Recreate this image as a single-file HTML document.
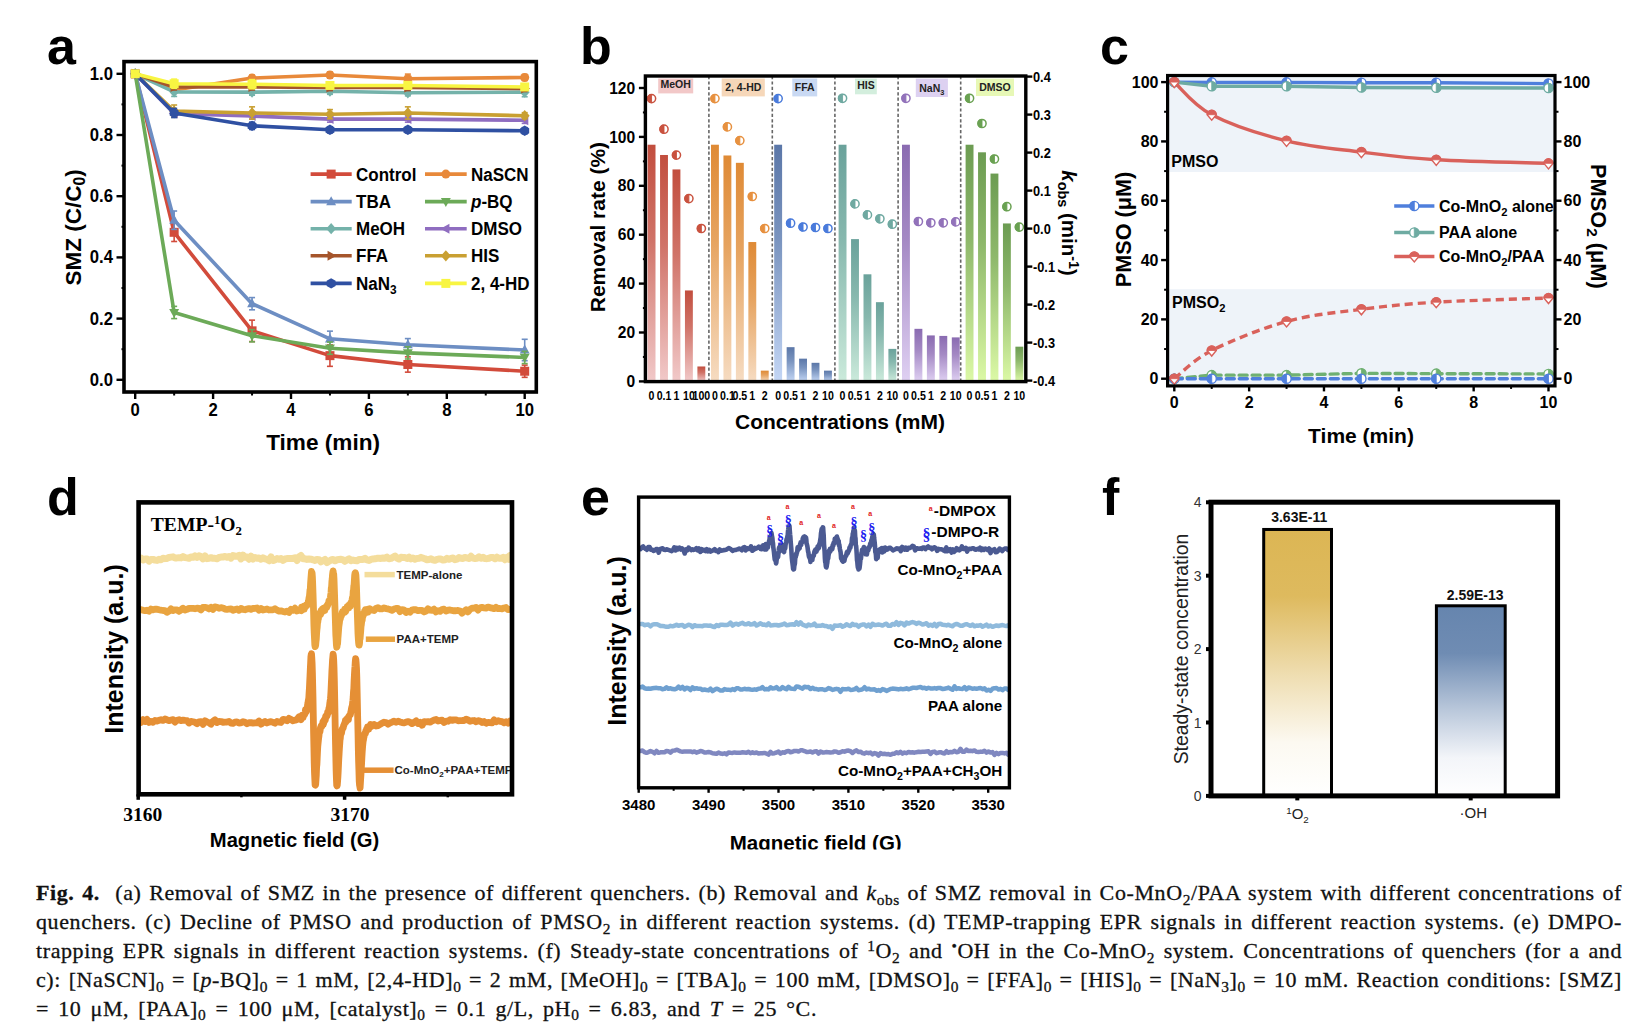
<!DOCTYPE html>
<html><head><meta charset="utf-8"><style>
html,body{margin:0;padding:0;background:#fff;}
body{width:1652px;height:1030px;position:relative;overflow:hidden;}
.cl{position:absolute;left:36px;width:1586px;font-family:"Liberation Serif",serif;font-size:22px;line-height:22px;height:22px;white-space:nowrap;letter-spacing:0.6px;text-align:justify;text-align-last:justify;color:#111;-webkit-text-stroke:0.3px #111;}
.cl.last{width:781px;}
.sb{font-size:0.7em;position:relative;top:0.3em;}
.sp{font-size:0.7em;position:relative;top:-0.45em;}
</style></head><body>
<svg width="1652" height="1030" viewBox="0 0 1652 1030" style="position:absolute;left:0;top:0"><defs><linearGradient id="gb0" x1="0" y1="0" x2="0" y2="1"><stop offset="0" stop-color="#c24e3e"/><stop offset="0.4" stop-color="#d07368"/><stop offset="1" stop-color="#f1c9c9"/></linearGradient><linearGradient id="gb1" x1="0" y1="0" x2="0" y2="1"><stop offset="0" stop-color="#df8a35"/><stop offset="0.4" stop-color="#e6a35f"/><stop offset="1" stop-color="#f6dcc2"/></linearGradient><linearGradient id="gb2" x1="0" y1="0" x2="0" y2="1"><stop offset="0" stop-color="#5b77a8"/><stop offset="0.4" stop-color="#7a94bf"/><stop offset="1" stop-color="#c3d6f5"/></linearGradient><linearGradient id="gb3" x1="0" y1="0" x2="0" y2="1"><stop offset="0" stop-color="#6aa29b"/><stop offset="0.4" stop-color="#87b8ae"/><stop offset="1" stop-color="#cbeadb"/></linearGradient><linearGradient id="gb4" x1="0" y1="0" x2="0" y2="1"><stop offset="0" stop-color="#8a6bb1"/><stop offset="0.4" stop-color="#a489c4"/><stop offset="1" stop-color="#dfd0f2"/></linearGradient><linearGradient id="gb5" x1="0" y1="0" x2="0" y2="1"><stop offset="0" stop-color="#6c9c52"/><stop offset="0.4" stop-color="#8eb86b"/><stop offset="1" stop-color="#dcf9a6"/></linearGradient><linearGradient id="gf1" x1="0" y1="0" x2="0" y2="1"><stop offset="0" stop-color="#dcb654"/><stop offset="0.25" stop-color="#deba5e"/><stop offset="0.55" stop-color="#efdeb2"/><stop offset="0.8" stop-color="#fcf9f1"/><stop offset="1" stop-color="#ffffff"/></linearGradient><linearGradient id="gf2" x1="0" y1="0" x2="0" y2="1"><stop offset="0" stop-color="#6685ae"/><stop offset="0.25" stop-color="#6f8cb3"/><stop offset="0.55" stop-color="#bac8db"/><stop offset="0.8" stop-color="#f3f5f9"/><stop offset="1" stop-color="#ffffff"/></linearGradient></defs><text x="47" y="63.5" font-size="52" font-weight="bold" text-anchor="start" fill="#000" font-family='"Liberation Sans", sans-serif' >a</text>
<polyline points="135.2,73.8 174.15,232.31 252.05,330.84 329.95,355.63 407.85,364.5 524.7,371.23" fill="none" stroke="#d24b3b" stroke-width="3.6" stroke-linejoin="round" stroke-linecap="round" />
<rect x="130.7" y="69.3" width="9" height="9" fill="#d24b3b"/>
<line x1="174.15" y1="223.13" x2="174.15" y2="241.49" stroke="#d24b3b" stroke-width="1.6" />
<line x1="171.15" y1="223.13" x2="177.15" y2="223.13" stroke="#d24b3b" stroke-width="1.6" />
<line x1="171.15" y1="241.49" x2="177.15" y2="241.49" stroke="#d24b3b" stroke-width="1.6" />
<rect x="169.65" y="227.81" width="9" height="9" fill="#d24b3b"/>
<line x1="252.05" y1="320.13" x2="252.05" y2="341.55" stroke="#d24b3b" stroke-width="1.6" />
<line x1="249.05" y1="320.13" x2="255.05" y2="320.13" stroke="#d24b3b" stroke-width="1.6" />
<line x1="249.05" y1="341.55" x2="255.05" y2="341.55" stroke="#d24b3b" stroke-width="1.6" />
<rect x="247.55" y="326.34" width="9" height="9" fill="#d24b3b"/>
<line x1="329.95" y1="344.92" x2="329.95" y2="366.34" stroke="#d24b3b" stroke-width="1.6" />
<line x1="326.95" y1="344.92" x2="332.95" y2="344.92" stroke="#d24b3b" stroke-width="1.6" />
<line x1="326.95" y1="366.34" x2="332.95" y2="366.34" stroke="#d24b3b" stroke-width="1.6" />
<rect x="325.45" y="351.13" width="9" height="9" fill="#d24b3b"/>
<line x1="407.85" y1="356.85" x2="407.85" y2="372.15" stroke="#d24b3b" stroke-width="1.6" />
<line x1="404.85" y1="356.85" x2="410.85" y2="356.85" stroke="#d24b3b" stroke-width="1.6" />
<line x1="404.85" y1="372.15" x2="410.85" y2="372.15" stroke="#d24b3b" stroke-width="1.6" />
<rect x="403.35" y="360" width="9" height="9" fill="#d24b3b"/>
<line x1="524.7" y1="365.11" x2="524.7" y2="377.35" stroke="#d24b3b" stroke-width="1.6" />
<line x1="521.7" y1="365.11" x2="527.7" y2="365.11" stroke="#d24b3b" stroke-width="1.6" />
<line x1="521.7" y1="377.35" x2="527.7" y2="377.35" stroke="#d24b3b" stroke-width="1.6" />
<rect x="520.2" y="366.73" width="9" height="9" fill="#d24b3b"/>
<polyline points="135.2,73.8 174.15,90.02 252.05,78.08 329.95,75.02 407.85,78.7 524.7,77.47" fill="none" stroke="#e8893a" stroke-width="3.6" stroke-linejoin="round" stroke-linecap="round" />
<circle cx="135.2" cy="73.8" r="4.5" fill="#e8893a"/>
<line x1="174.15" y1="86.96" x2="174.15" y2="93.08" stroke="#e8893a" stroke-width="1.6" />
<line x1="171.15" y1="86.96" x2="177.15" y2="86.96" stroke="#e8893a" stroke-width="1.6" />
<line x1="171.15" y1="93.08" x2="177.15" y2="93.08" stroke="#e8893a" stroke-width="1.6" />
<circle cx="174.15" cy="90.02" r="4.5" fill="#e8893a"/>
<line x1="252.05" y1="75.02" x2="252.05" y2="81.14" stroke="#e8893a" stroke-width="1.6" />
<line x1="249.05" y1="75.02" x2="255.05" y2="75.02" stroke="#e8893a" stroke-width="1.6" />
<line x1="249.05" y1="81.14" x2="255.05" y2="81.14" stroke="#e8893a" stroke-width="1.6" />
<circle cx="252.05" cy="78.08" r="4.5" fill="#e8893a"/>
<line x1="329.95" y1="71.96" x2="329.95" y2="78.08" stroke="#e8893a" stroke-width="1.6" />
<line x1="326.95" y1="71.96" x2="332.95" y2="71.96" stroke="#e8893a" stroke-width="1.6" />
<line x1="326.95" y1="78.08" x2="332.95" y2="78.08" stroke="#e8893a" stroke-width="1.6" />
<circle cx="329.95" cy="75.02" r="4.5" fill="#e8893a"/>
<line x1="407.85" y1="74.11" x2="407.85" y2="83.29" stroke="#e8893a" stroke-width="1.6" />
<line x1="404.85" y1="74.11" x2="410.85" y2="74.11" stroke="#e8893a" stroke-width="1.6" />
<line x1="404.85" y1="83.29" x2="410.85" y2="83.29" stroke="#e8893a" stroke-width="1.6" />
<circle cx="407.85" cy="78.7" r="4.5" fill="#e8893a"/>
<line x1="524.7" y1="74.41" x2="524.7" y2="80.53" stroke="#e8893a" stroke-width="1.6" />
<line x1="521.7" y1="74.41" x2="527.7" y2="74.41" stroke="#e8893a" stroke-width="1.6" />
<line x1="521.7" y1="80.53" x2="527.7" y2="80.53" stroke="#e8893a" stroke-width="1.6" />
<circle cx="524.7" cy="77.47" r="4.5" fill="#e8893a"/>
<polyline points="135.2,73.8 174.15,220.19 252.05,303.7 329.95,338.8 407.85,344.7 524.7,350" fill="none" stroke="#6d8ec3" stroke-width="3.6" stroke-linejoin="round" stroke-linecap="round" />
<polygon points="135.2,68.4 140.15,77.4 130.25,77.4" fill="#6d8ec3"/>
<line x1="174.15" y1="211.01" x2="174.15" y2="229.37" stroke="#6d8ec3" stroke-width="1.6" />
<line x1="171.15" y1="211.01" x2="177.15" y2="211.01" stroke="#6d8ec3" stroke-width="1.6" />
<line x1="171.15" y1="229.37" x2="177.15" y2="229.37" stroke="#6d8ec3" stroke-width="1.6" />
<polygon points="174.15,214.79 179.1,223.79 169.2,223.79" fill="#6d8ec3"/>
<line x1="252.05" y1="297.58" x2="252.05" y2="309.82" stroke="#6d8ec3" stroke-width="1.6" />
<line x1="249.05" y1="297.58" x2="255.05" y2="297.58" stroke="#6d8ec3" stroke-width="1.6" />
<line x1="249.05" y1="309.82" x2="255.05" y2="309.82" stroke="#6d8ec3" stroke-width="1.6" />
<polygon points="252.05,298.3 257,307.3 247.1,307.3" fill="#6d8ec3"/>
<line x1="329.95" y1="331.15" x2="329.95" y2="346.45" stroke="#6d8ec3" stroke-width="1.6" />
<line x1="326.95" y1="331.15" x2="332.95" y2="331.15" stroke="#6d8ec3" stroke-width="1.6" />
<line x1="326.95" y1="346.45" x2="332.95" y2="346.45" stroke="#6d8ec3" stroke-width="1.6" />
<polygon points="329.95,333.4 334.9,342.4 325,342.4" fill="#6d8ec3"/>
<line x1="407.85" y1="338.58" x2="407.85" y2="350.82" stroke="#6d8ec3" stroke-width="1.6" />
<line x1="404.85" y1="338.58" x2="410.85" y2="338.58" stroke="#6d8ec3" stroke-width="1.6" />
<line x1="404.85" y1="350.82" x2="410.85" y2="350.82" stroke="#6d8ec3" stroke-width="1.6" />
<polygon points="407.85,339.3 412.8,348.3 402.9,348.3" fill="#6d8ec3"/>
<line x1="524.7" y1="339.29" x2="524.7" y2="360.71" stroke="#6d8ec3" stroke-width="1.6" />
<line x1="521.7" y1="339.29" x2="527.7" y2="339.29" stroke="#6d8ec3" stroke-width="1.6" />
<line x1="521.7" y1="360.71" x2="527.7" y2="360.71" stroke="#6d8ec3" stroke-width="1.6" />
<polygon points="524.7,344.6 529.65,353.6 519.75,353.6" fill="#6d8ec3"/>
<polyline points="135.2,73.8 174.15,312.48 252.05,335.74 329.95,348.19 407.85,352.87 524.7,357.46" fill="none" stroke="#6caa58" stroke-width="3.6" stroke-linejoin="round" stroke-linecap="round" />
<polygon points="135.2,79.2 140.15,70.2 130.25,70.2" fill="#6caa58"/>
<line x1="174.15" y1="306.36" x2="174.15" y2="318.6" stroke="#6caa58" stroke-width="1.6" />
<line x1="171.15" y1="306.36" x2="177.15" y2="306.36" stroke="#6caa58" stroke-width="1.6" />
<line x1="171.15" y1="318.6" x2="177.15" y2="318.6" stroke="#6caa58" stroke-width="1.6" />
<polygon points="174.15,317.88 179.1,308.88 169.2,308.88" fill="#6caa58"/>
<line x1="252.05" y1="329.62" x2="252.05" y2="341.86" stroke="#6caa58" stroke-width="1.6" />
<line x1="249.05" y1="329.62" x2="255.05" y2="329.62" stroke="#6caa58" stroke-width="1.6" />
<line x1="249.05" y1="341.86" x2="255.05" y2="341.86" stroke="#6caa58" stroke-width="1.6" />
<polygon points="252.05,341.14 257,332.14 247.1,332.14" fill="#6caa58"/>
<line x1="329.95" y1="342.07" x2="329.95" y2="354.31" stroke="#6caa58" stroke-width="1.6" />
<line x1="326.95" y1="342.07" x2="332.95" y2="342.07" stroke="#6caa58" stroke-width="1.6" />
<line x1="326.95" y1="354.31" x2="332.95" y2="354.31" stroke="#6caa58" stroke-width="1.6" />
<polygon points="329.95,353.59 334.9,344.59 325,344.59" fill="#6caa58"/>
<line x1="407.85" y1="346.75" x2="407.85" y2="358.99" stroke="#6caa58" stroke-width="1.6" />
<line x1="404.85" y1="346.75" x2="410.85" y2="346.75" stroke="#6caa58" stroke-width="1.6" />
<line x1="404.85" y1="358.99" x2="410.85" y2="358.99" stroke="#6caa58" stroke-width="1.6" />
<polygon points="407.85,358.27 412.8,349.27 402.9,349.27" fill="#6caa58"/>
<line x1="524.7" y1="351.34" x2="524.7" y2="363.58" stroke="#6caa58" stroke-width="1.6" />
<line x1="521.7" y1="351.34" x2="527.7" y2="351.34" stroke="#6caa58" stroke-width="1.6" />
<line x1="521.7" y1="363.58" x2="527.7" y2="363.58" stroke="#6caa58" stroke-width="1.6" />
<polygon points="524.7,362.86 529.65,353.86 519.75,353.86" fill="#6caa58"/>
<polyline points="135.2,73.8 174.15,91.85 252.05,92.16 329.95,91.24 407.85,92.77 524.7,92.16" fill="none" stroke="#74b2aa" stroke-width="3.6" stroke-linejoin="round" stroke-linecap="round" />
<polygon points="135.2,68.18 140.15,73.8 135.2,79.43 130.25,73.8" fill="#74b2aa"/>
<line x1="174.15" y1="87.26" x2="174.15" y2="96.44" stroke="#74b2aa" stroke-width="1.6" />
<line x1="171.15" y1="87.26" x2="177.15" y2="87.26" stroke="#74b2aa" stroke-width="1.6" />
<line x1="171.15" y1="96.44" x2="177.15" y2="96.44" stroke="#74b2aa" stroke-width="1.6" />
<polygon points="174.15,86.23 179.1,91.85 174.15,97.48 169.2,91.85" fill="#74b2aa"/>
<line x1="252.05" y1="89.1" x2="252.05" y2="95.22" stroke="#74b2aa" stroke-width="1.6" />
<line x1="249.05" y1="89.1" x2="255.05" y2="89.1" stroke="#74b2aa" stroke-width="1.6" />
<line x1="249.05" y1="95.22" x2="255.05" y2="95.22" stroke="#74b2aa" stroke-width="1.6" />
<polygon points="252.05,86.54 257,92.16 252.05,97.79 247.1,92.16" fill="#74b2aa"/>
<line x1="329.95" y1="88.18" x2="329.95" y2="94.3" stroke="#74b2aa" stroke-width="1.6" />
<line x1="326.95" y1="88.18" x2="332.95" y2="88.18" stroke="#74b2aa" stroke-width="1.6" />
<line x1="326.95" y1="94.3" x2="332.95" y2="94.3" stroke="#74b2aa" stroke-width="1.6" />
<polygon points="329.95,85.62 334.9,91.24 329.95,96.87 325,91.24" fill="#74b2aa"/>
<line x1="407.85" y1="89.71" x2="407.85" y2="95.83" stroke="#74b2aa" stroke-width="1.6" />
<line x1="404.85" y1="89.71" x2="410.85" y2="89.71" stroke="#74b2aa" stroke-width="1.6" />
<line x1="404.85" y1="95.83" x2="410.85" y2="95.83" stroke="#74b2aa" stroke-width="1.6" />
<polygon points="407.85,87.15 412.8,92.77 407.85,98.4 402.9,92.77" fill="#74b2aa"/>
<line x1="524.7" y1="87.57" x2="524.7" y2="96.75" stroke="#74b2aa" stroke-width="1.6" />
<line x1="521.7" y1="87.57" x2="527.7" y2="87.57" stroke="#74b2aa" stroke-width="1.6" />
<line x1="521.7" y1="96.75" x2="527.7" y2="96.75" stroke="#74b2aa" stroke-width="1.6" />
<polygon points="524.7,86.54 529.65,92.16 524.7,97.79 519.75,92.16" fill="#74b2aa"/>
<polyline points="135.2,73.8 174.15,113.58 252.05,116.03 329.95,119.09 407.85,119.09 524.7,120.31" fill="none" stroke="#8f6dc0" stroke-width="3.6" stroke-linejoin="round" stroke-linecap="round" />
<polygon points="129.8,73.8 138.8,68.85 138.8,78.75" fill="#8f6dc0"/>
<line x1="174.15" y1="110.52" x2="174.15" y2="116.64" stroke="#8f6dc0" stroke-width="1.6" />
<line x1="171.15" y1="110.52" x2="177.15" y2="110.52" stroke="#8f6dc0" stroke-width="1.6" />
<line x1="171.15" y1="116.64" x2="177.15" y2="116.64" stroke="#8f6dc0" stroke-width="1.6" />
<polygon points="168.75,113.58 177.75,108.63 177.75,118.53" fill="#8f6dc0"/>
<line x1="252.05" y1="112.97" x2="252.05" y2="119.09" stroke="#8f6dc0" stroke-width="1.6" />
<line x1="249.05" y1="112.97" x2="255.05" y2="112.97" stroke="#8f6dc0" stroke-width="1.6" />
<line x1="249.05" y1="119.09" x2="255.05" y2="119.09" stroke="#8f6dc0" stroke-width="1.6" />
<polygon points="246.65,116.03 255.65,111.08 255.65,120.98" fill="#8f6dc0"/>
<line x1="329.95" y1="116.03" x2="329.95" y2="122.15" stroke="#8f6dc0" stroke-width="1.6" />
<line x1="326.95" y1="116.03" x2="332.95" y2="116.03" stroke="#8f6dc0" stroke-width="1.6" />
<line x1="326.95" y1="122.15" x2="332.95" y2="122.15" stroke="#8f6dc0" stroke-width="1.6" />
<polygon points="324.55,119.09 333.55,114.14 333.55,124.04" fill="#8f6dc0"/>
<line x1="407.85" y1="116.03" x2="407.85" y2="122.15" stroke="#8f6dc0" stroke-width="1.6" />
<line x1="404.85" y1="116.03" x2="410.85" y2="116.03" stroke="#8f6dc0" stroke-width="1.6" />
<line x1="404.85" y1="122.15" x2="410.85" y2="122.15" stroke="#8f6dc0" stroke-width="1.6" />
<polygon points="402.45,119.09 411.45,114.14 411.45,124.04" fill="#8f6dc0"/>
<line x1="524.7" y1="117.25" x2="524.7" y2="123.37" stroke="#8f6dc0" stroke-width="1.6" />
<line x1="521.7" y1="117.25" x2="527.7" y2="117.25" stroke="#8f6dc0" stroke-width="1.6" />
<line x1="521.7" y1="123.37" x2="527.7" y2="123.37" stroke="#8f6dc0" stroke-width="1.6" />
<polygon points="519.3,120.31 528.3,115.36 528.3,125.26" fill="#8f6dc0"/>
<polyline points="135.2,73.8 174.15,86.96 252.05,86.96 329.95,87.57 407.85,87.57 524.7,88.49" fill="none" stroke="#a5552b" stroke-width="3.6" stroke-linejoin="round" stroke-linecap="round" />
<polygon points="140.6,73.8 131.6,68.85 131.6,78.75" fill="#a5552b"/>
<line x1="174.15" y1="83.9" x2="174.15" y2="90.02" stroke="#a5552b" stroke-width="1.6" />
<line x1="171.15" y1="83.9" x2="177.15" y2="83.9" stroke="#a5552b" stroke-width="1.6" />
<line x1="171.15" y1="90.02" x2="177.15" y2="90.02" stroke="#a5552b" stroke-width="1.6" />
<polygon points="179.55,86.96 170.55,82.01 170.55,91.91" fill="#a5552b"/>
<line x1="252.05" y1="83.9" x2="252.05" y2="90.02" stroke="#a5552b" stroke-width="1.6" />
<line x1="249.05" y1="83.9" x2="255.05" y2="83.9" stroke="#a5552b" stroke-width="1.6" />
<line x1="249.05" y1="90.02" x2="255.05" y2="90.02" stroke="#a5552b" stroke-width="1.6" />
<polygon points="257.45,86.96 248.45,82.01 248.45,91.91" fill="#a5552b"/>
<line x1="329.95" y1="84.51" x2="329.95" y2="90.63" stroke="#a5552b" stroke-width="1.6" />
<line x1="326.95" y1="84.51" x2="332.95" y2="84.51" stroke="#a5552b" stroke-width="1.6" />
<line x1="326.95" y1="90.63" x2="332.95" y2="90.63" stroke="#a5552b" stroke-width="1.6" />
<polygon points="335.35,87.57 326.35,82.62 326.35,92.52" fill="#a5552b"/>
<line x1="407.85" y1="84.51" x2="407.85" y2="90.63" stroke="#a5552b" stroke-width="1.6" />
<line x1="404.85" y1="84.51" x2="410.85" y2="84.51" stroke="#a5552b" stroke-width="1.6" />
<line x1="404.85" y1="90.63" x2="410.85" y2="90.63" stroke="#a5552b" stroke-width="1.6" />
<polygon points="413.25,87.57 404.25,82.62 404.25,92.52" fill="#a5552b"/>
<line x1="524.7" y1="85.43" x2="524.7" y2="91.55" stroke="#a5552b" stroke-width="1.6" />
<line x1="521.7" y1="85.43" x2="527.7" y2="85.43" stroke="#a5552b" stroke-width="1.6" />
<line x1="521.7" y1="91.55" x2="527.7" y2="91.55" stroke="#a5552b" stroke-width="1.6" />
<polygon points="530.1,88.49 521.1,83.54 521.1,93.44" fill="#a5552b"/>
<polyline points="135.2,73.8 174.15,111.13 252.05,112.97 329.95,114.19 407.85,112.97 524.7,115.72" fill="none" stroke="#c9a032" stroke-width="3.6" stroke-linejoin="round" stroke-linecap="round" />
<polygon points="135.2,68.18 140.15,73.8 135.2,79.43 130.25,73.8" fill="#c9a032"/>
<line x1="174.15" y1="105.01" x2="174.15" y2="117.25" stroke="#c9a032" stroke-width="1.6" />
<line x1="171.15" y1="105.01" x2="177.15" y2="105.01" stroke="#c9a032" stroke-width="1.6" />
<line x1="171.15" y1="117.25" x2="177.15" y2="117.25" stroke="#c9a032" stroke-width="1.6" />
<polygon points="174.15,105.51 179.1,111.13 174.15,116.76 169.2,111.13" fill="#c9a032"/>
<line x1="252.05" y1="106.85" x2="252.05" y2="119.09" stroke="#c9a032" stroke-width="1.6" />
<line x1="249.05" y1="106.85" x2="255.05" y2="106.85" stroke="#c9a032" stroke-width="1.6" />
<line x1="249.05" y1="119.09" x2="255.05" y2="119.09" stroke="#c9a032" stroke-width="1.6" />
<polygon points="252.05,107.34 257,112.97 252.05,118.59 247.1,112.97" fill="#c9a032"/>
<line x1="329.95" y1="109.6" x2="329.95" y2="118.78" stroke="#c9a032" stroke-width="1.6" />
<line x1="326.95" y1="109.6" x2="332.95" y2="109.6" stroke="#c9a032" stroke-width="1.6" />
<line x1="326.95" y1="118.78" x2="332.95" y2="118.78" stroke="#c9a032" stroke-width="1.6" />
<polygon points="329.95,108.57 334.9,114.19 329.95,119.82 325,114.19" fill="#c9a032"/>
<line x1="407.85" y1="106.85" x2="407.85" y2="119.09" stroke="#c9a032" stroke-width="1.6" />
<line x1="404.85" y1="106.85" x2="410.85" y2="106.85" stroke="#c9a032" stroke-width="1.6" />
<line x1="404.85" y1="119.09" x2="410.85" y2="119.09" stroke="#c9a032" stroke-width="1.6" />
<polygon points="407.85,107.34 412.8,112.97 407.85,118.59 402.9,112.97" fill="#c9a032"/>
<line x1="524.7" y1="112.66" x2="524.7" y2="118.78" stroke="#c9a032" stroke-width="1.6" />
<line x1="521.7" y1="112.66" x2="527.7" y2="112.66" stroke="#c9a032" stroke-width="1.6" />
<line x1="521.7" y1="118.78" x2="527.7" y2="118.78" stroke="#c9a032" stroke-width="1.6" />
<polygon points="524.7,110.1 529.65,115.72 524.7,121.35 519.75,115.72" fill="#c9a032"/>
<polyline points="135.2,73.8 174.15,112.97 252.05,125.82 329.95,129.8 407.85,129.8 524.7,130.72" fill="none" stroke="#2f50a2" stroke-width="3.6" stroke-linejoin="round" stroke-linecap="round" />
<polygon points="135.2,68.63 139.68,71.21 139.68,76.39 135.2,78.98 130.72,76.39 130.72,71.21" fill="#2f50a2"/>
<line x1="174.15" y1="108.38" x2="174.15" y2="117.56" stroke="#2f50a2" stroke-width="1.6" />
<line x1="171.15" y1="108.38" x2="177.15" y2="108.38" stroke="#2f50a2" stroke-width="1.6" />
<line x1="171.15" y1="117.56" x2="177.15" y2="117.56" stroke="#2f50a2" stroke-width="1.6" />
<polygon points="174.15,107.79 178.63,110.38 178.63,115.56 174.15,118.14 169.67,115.56 169.67,110.38" fill="#2f50a2"/>
<line x1="252.05" y1="122.15" x2="252.05" y2="129.49" stroke="#2f50a2" stroke-width="1.6" />
<line x1="249.05" y1="122.15" x2="255.05" y2="122.15" stroke="#2f50a2" stroke-width="1.6" />
<line x1="249.05" y1="129.49" x2="255.05" y2="129.49" stroke="#2f50a2" stroke-width="1.6" />
<polygon points="252.05,120.65 256.53,123.23 256.53,128.41 252.05,131 247.57,128.41 247.57,123.23" fill="#2f50a2"/>
<line x1="329.95" y1="126.74" x2="329.95" y2="132.86" stroke="#2f50a2" stroke-width="1.6" />
<line x1="326.95" y1="126.74" x2="332.95" y2="126.74" stroke="#2f50a2" stroke-width="1.6" />
<line x1="326.95" y1="132.86" x2="332.95" y2="132.86" stroke="#2f50a2" stroke-width="1.6" />
<polygon points="329.95,124.62 334.43,127.21 334.43,132.39 329.95,134.97 325.47,132.39 325.47,127.21" fill="#2f50a2"/>
<line x1="407.85" y1="126.74" x2="407.85" y2="132.86" stroke="#2f50a2" stroke-width="1.6" />
<line x1="404.85" y1="126.74" x2="410.85" y2="126.74" stroke="#2f50a2" stroke-width="1.6" />
<line x1="404.85" y1="132.86" x2="410.85" y2="132.86" stroke="#2f50a2" stroke-width="1.6" />
<polygon points="407.85,124.62 412.33,127.21 412.33,132.39 407.85,134.97 403.37,132.39 403.37,127.21" fill="#2f50a2"/>
<line x1="524.7" y1="127.66" x2="524.7" y2="133.78" stroke="#2f50a2" stroke-width="1.6" />
<line x1="521.7" y1="127.66" x2="527.7" y2="127.66" stroke="#2f50a2" stroke-width="1.6" />
<line x1="521.7" y1="133.78" x2="527.7" y2="133.78" stroke="#2f50a2" stroke-width="1.6" />
<polygon points="524.7,125.54 529.18,128.13 529.18,133.3 524.7,135.89 520.22,133.3 520.22,128.13" fill="#2f50a2"/>
<polyline points="135.2,73.8 174.15,83.71 252.05,84.2 329.95,85.43 407.85,85.43 524.7,86.96" fill="none" stroke="#f8f542" stroke-width="3.6" stroke-linejoin="round" stroke-linecap="round" />
<rect x="130.7" y="69.3" width="9" height="9" fill="#f8f542"/>
<line x1="174.15" y1="79.12" x2="174.15" y2="88.3" stroke="#f8f542" stroke-width="1.6" />
<line x1="171.15" y1="79.12" x2="177.15" y2="79.12" stroke="#f8f542" stroke-width="1.6" />
<line x1="171.15" y1="88.3" x2="177.15" y2="88.3" stroke="#f8f542" stroke-width="1.6" />
<rect x="169.65" y="79.21" width="9" height="9" fill="#f8f542"/>
<line x1="252.05" y1="79.61" x2="252.05" y2="88.79" stroke="#f8f542" stroke-width="1.6" />
<line x1="249.05" y1="79.61" x2="255.05" y2="79.61" stroke="#f8f542" stroke-width="1.6" />
<line x1="249.05" y1="88.79" x2="255.05" y2="88.79" stroke="#f8f542" stroke-width="1.6" />
<rect x="247.55" y="79.7" width="9" height="9" fill="#f8f542"/>
<line x1="329.95" y1="82.37" x2="329.95" y2="88.49" stroke="#f8f542" stroke-width="1.6" />
<line x1="326.95" y1="82.37" x2="332.95" y2="82.37" stroke="#f8f542" stroke-width="1.6" />
<line x1="326.95" y1="88.49" x2="332.95" y2="88.49" stroke="#f8f542" stroke-width="1.6" />
<rect x="325.45" y="80.93" width="9" height="9" fill="#f8f542"/>
<line x1="407.85" y1="82.37" x2="407.85" y2="88.49" stroke="#f8f542" stroke-width="1.6" />
<line x1="404.85" y1="82.37" x2="410.85" y2="82.37" stroke="#f8f542" stroke-width="1.6" />
<line x1="404.85" y1="88.49" x2="410.85" y2="88.49" stroke="#f8f542" stroke-width="1.6" />
<rect x="403.35" y="80.93" width="9" height="9" fill="#f8f542"/>
<line x1="524.7" y1="83.9" x2="524.7" y2="90.02" stroke="#f8f542" stroke-width="1.6" />
<line x1="521.7" y1="83.9" x2="527.7" y2="83.9" stroke="#f8f542" stroke-width="1.6" />
<line x1="521.7" y1="90.02" x2="527.7" y2="90.02" stroke="#f8f542" stroke-width="1.6" />
<rect x="520.2" y="82.46" width="9" height="9" fill="#f8f542"/>
<rect x="124" y="61.6" width="412.3" height="330.4" fill="none" stroke="#000" stroke-width="3.6" />
<line x1="116.5" y1="379.8" x2="124" y2="379.8" stroke="#000" stroke-width="2.4" />
<text transform="translate(113,385.7) scale(1,1.1)" font-size="16.7" font-weight="bold" text-anchor="end" fill="#000" font-family='"Liberation Sans", sans-serif' >0.0</text>
<line x1="121.5" y1="349.2" x2="124" y2="349.2" stroke="#000" stroke-width="2.0" />
<line x1="116.5" y1="318.6" x2="124" y2="318.6" stroke="#000" stroke-width="2.4" />
<text transform="translate(113,324.5) scale(1,1.1)" font-size="16.7" font-weight="bold" text-anchor="end" fill="#000" font-family='"Liberation Sans", sans-serif' >0.2</text>
<line x1="121.5" y1="288" x2="124" y2="288" stroke="#000" stroke-width="2.0" />
<line x1="116.5" y1="257.4" x2="124" y2="257.4" stroke="#000" stroke-width="2.4" />
<text transform="translate(113,263.3) scale(1,1.1)" font-size="16.7" font-weight="bold" text-anchor="end" fill="#000" font-family='"Liberation Sans", sans-serif' >0.4</text>
<line x1="121.5" y1="226.8" x2="124" y2="226.8" stroke="#000" stroke-width="2.0" />
<line x1="116.5" y1="196.2" x2="124" y2="196.2" stroke="#000" stroke-width="2.4" />
<text transform="translate(113,202.1) scale(1,1.1)" font-size="16.7" font-weight="bold" text-anchor="end" fill="#000" font-family='"Liberation Sans", sans-serif' >0.6</text>
<line x1="121.5" y1="165.6" x2="124" y2="165.6" stroke="#000" stroke-width="2.0" />
<line x1="116.5" y1="135" x2="124" y2="135" stroke="#000" stroke-width="2.4" />
<text transform="translate(113,140.9) scale(1,1.1)" font-size="16.7" font-weight="bold" text-anchor="end" fill="#000" font-family='"Liberation Sans", sans-serif' >0.8</text>
<line x1="121.5" y1="104.4" x2="124" y2="104.4" stroke="#000" stroke-width="2.0" />
<line x1="116.5" y1="73.8" x2="124" y2="73.8" stroke="#000" stroke-width="2.4" />
<text transform="translate(113,79.7) scale(1,1.1)" font-size="16.7" font-weight="bold" text-anchor="end" fill="#000" font-family='"Liberation Sans", sans-serif' >1.0</text>
<line x1="135.2" y1="392" x2="135.2" y2="399" stroke="#000" stroke-width="2.4" />
<text transform="translate(135.2,416.3) scale(1,1.1)" font-size="16.7" font-weight="bold" text-anchor="middle" fill="#000" font-family='"Liberation Sans", sans-serif' >0</text>
<line x1="174.15" y1="392" x2="174.15" y2="395.5" stroke="#000" stroke-width="2.0" />
<line x1="213.1" y1="392" x2="213.1" y2="399" stroke="#000" stroke-width="2.4" />
<text transform="translate(213.1,416.3) scale(1,1.1)" font-size="16.7" font-weight="bold" text-anchor="middle" fill="#000" font-family='"Liberation Sans", sans-serif' >2</text>
<line x1="252.05" y1="392" x2="252.05" y2="395.5" stroke="#000" stroke-width="2.0" />
<line x1="291" y1="392" x2="291" y2="399" stroke="#000" stroke-width="2.4" />
<text transform="translate(291,416.3) scale(1,1.1)" font-size="16.7" font-weight="bold" text-anchor="middle" fill="#000" font-family='"Liberation Sans", sans-serif' >4</text>
<line x1="329.95" y1="392" x2="329.95" y2="395.5" stroke="#000" stroke-width="2.0" />
<line x1="368.9" y1="392" x2="368.9" y2="399" stroke="#000" stroke-width="2.4" />
<text transform="translate(368.9,416.3) scale(1,1.1)" font-size="16.7" font-weight="bold" text-anchor="middle" fill="#000" font-family='"Liberation Sans", sans-serif' >6</text>
<line x1="407.85" y1="392" x2="407.85" y2="395.5" stroke="#000" stroke-width="2.0" />
<line x1="446.8" y1="392" x2="446.8" y2="399" stroke="#000" stroke-width="2.4" />
<text transform="translate(446.8,416.3) scale(1,1.1)" font-size="16.7" font-weight="bold" text-anchor="middle" fill="#000" font-family='"Liberation Sans", sans-serif' >8</text>
<line x1="485.75" y1="392" x2="485.75" y2="395.5" stroke="#000" stroke-width="2.0" />
<line x1="524.7" y1="392" x2="524.7" y2="399" stroke="#000" stroke-width="2.4" />
<text transform="translate(524.7,416.3) scale(1,1.1)" font-size="16.7" font-weight="bold" text-anchor="middle" fill="#000" font-family='"Liberation Sans", sans-serif' >10</text>
<text x="323.1" y="450" font-size="22.6" font-weight="bold" text-anchor="middle" fill="#000" font-family='"Liberation Sans", sans-serif' >Time (min)</text>
<text x="0" y="0" font-size="22.5" font-weight="bold" text-anchor="middle" fill="#000" font-family='"Liberation Sans", sans-serif' transform="translate(80.5,227.4) rotate(-90)">SMZ (C/C<tspan font-size="70%" dy="4">0</tspan><tspan dy="-4">)</tspan></text>
<line x1="310.6" y1="174.1" x2="351.7" y2="174.1" stroke="#d24b3b" stroke-width="3.6" />
<rect x="326.65" y="169.6" width="9" height="9" fill="#d24b3b"/>
<text transform="translate(356,180.6) scale(1,1.07)" font-size="17" font-weight="bold" text-anchor="start" fill="#000" font-family='"Liberation Sans", sans-serif' >Control</text>
<line x1="425" y1="174.1" x2="466.7" y2="174.1" stroke="#e8893a" stroke-width="3.6" />
<circle cx="445.85" cy="174.1" r="4.5" fill="#e8893a"/>
<text transform="translate(471,180.6) scale(1,1.07)" font-size="17" font-weight="bold" text-anchor="start" fill="#000" font-family='"Liberation Sans", sans-serif' >NaSCN</text>
<line x1="310.6" y1="201.6" x2="351.7" y2="201.6" stroke="#6d8ec3" stroke-width="3.6" />
<polygon points="331.15,196.2 336.1,205.2 326.2,205.2" fill="#6d8ec3"/>
<text transform="translate(356,208.1) scale(1,1.07)" font-size="17" font-weight="bold" text-anchor="start" fill="#000" font-family='"Liberation Sans", sans-serif' >TBA</text>
<line x1="425" y1="201.6" x2="466.7" y2="201.6" stroke="#6caa58" stroke-width="3.6" />
<polygon points="445.85,207 450.8,198 440.9,198" fill="#6caa58"/>
<text transform="translate(471,208.1) scale(1,1.07)" font-size="17" font-weight="bold" text-anchor="start" fill="#000" font-family='"Liberation Sans", sans-serif' ><tspan font-style="italic">p</tspan>-BQ</text>
<line x1="310.6" y1="228.7" x2="351.7" y2="228.7" stroke="#74b2aa" stroke-width="3.6" />
<polygon points="331.15,223.07 336.1,228.7 331.15,234.32 326.2,228.7" fill="#74b2aa"/>
<text transform="translate(356,235.2) scale(1,1.07)" font-size="17" font-weight="bold" text-anchor="start" fill="#000" font-family='"Liberation Sans", sans-serif' >MeOH</text>
<line x1="425" y1="228.7" x2="466.7" y2="228.7" stroke="#8f6dc0" stroke-width="3.6" />
<polygon points="440.45,228.7 449.45,223.75 449.45,233.65" fill="#8f6dc0"/>
<text transform="translate(471,235.2) scale(1,1.07)" font-size="17" font-weight="bold" text-anchor="start" fill="#000" font-family='"Liberation Sans", sans-serif' >DMSO</text>
<line x1="310.6" y1="255.8" x2="351.7" y2="255.8" stroke="#a5552b" stroke-width="3.6" />
<polygon points="336.55,255.8 327.55,250.85 327.55,260.75" fill="#a5552b"/>
<text transform="translate(356,262.3) scale(1,1.07)" font-size="17" font-weight="bold" text-anchor="start" fill="#000" font-family='"Liberation Sans", sans-serif' >FFA</text>
<line x1="425" y1="255.8" x2="466.7" y2="255.8" stroke="#c9a032" stroke-width="3.6" />
<polygon points="445.85,250.18 450.8,255.8 445.85,261.43 440.9,255.8" fill="#c9a032"/>
<text transform="translate(471,262.3) scale(1,1.07)" font-size="17" font-weight="bold" text-anchor="start" fill="#000" font-family='"Liberation Sans", sans-serif' >HIS</text>
<line x1="310.6" y1="283.4" x2="351.7" y2="283.4" stroke="#2f50a2" stroke-width="3.6" />
<polygon points="331.15,278.22 335.63,280.81 335.63,285.99 331.15,288.57 326.67,285.99 326.67,280.81" fill="#2f50a2"/>
<text transform="translate(356,289.9) scale(1,1.07)" font-size="17" font-weight="bold" text-anchor="start" fill="#000" font-family='"Liberation Sans", sans-serif' >NaN<tspan font-size="70%" dy="4">3</tspan></text>
<line x1="425" y1="283.4" x2="466.7" y2="283.4" stroke="#f8f542" stroke-width="3.6" />
<rect x="441.35" y="278.9" width="9" height="9" fill="#f8f542"/>
<text transform="translate(471,289.9) scale(1,1.07)" font-size="17" font-weight="bold" text-anchor="start" fill="#000" font-family='"Liberation Sans", sans-serif' >2, 4-HD</text>
<text x="580" y="63.5" font-size="52" font-weight="bold" text-anchor="start" fill="#000" font-family='"Liberation Sans", sans-serif' >b</text>
<rect x="647.6" y="144.72" width="7.9" height="236.88" fill="url(#gb0)" stroke="none" stroke-width="0" />
<text transform="translate(651.55,399.5) scale(1,1.15)" font-size="10.6" font-weight="bold" text-anchor="middle" fill="#000" font-family='"Liberation Sans", sans-serif' >0</text>
<rect x="660.05" y="154.99" width="7.9" height="226.61" fill="url(#gb0)" stroke="none" stroke-width="0" />
<text transform="translate(664,399.5) scale(1,1.15)" font-size="10.6" font-weight="bold" text-anchor="middle" fill="#000" font-family='"Liberation Sans", sans-serif' >0.1</text>
<rect x="672.5" y="169.42" width="7.9" height="212.18" fill="url(#gb0)" stroke="none" stroke-width="0" />
<text transform="translate(676.45,399.5) scale(1,1.15)" font-size="10.6" font-weight="bold" text-anchor="middle" fill="#000" font-family='"Liberation Sans", sans-serif' >1</text>
<rect x="684.95" y="290.45" width="7.9" height="91.15" fill="url(#gb0)" stroke="none" stroke-width="0" />
<text transform="translate(688.9,399.5) scale(1,1.15)" font-size="10.6" font-weight="bold" text-anchor="middle" fill="#000" font-family='"Liberation Sans", sans-serif' >10</text>
<rect x="697.4" y="366.49" width="7.9" height="15.11" fill="url(#gb0)" stroke="none" stroke-width="0" />
<text transform="translate(701.35,399.5) scale(1,1.15)" font-size="10.6" font-weight="bold" text-anchor="middle" fill="#000" font-family='"Liberation Sans", sans-serif' >100</text>
<rect x="658.2" y="78.5" width="35" height="14.9" fill="#f2c8c8" stroke="none" stroke-width="0" />
<text x="675.7" y="88.4" font-size="10.5" font-weight="bold" text-anchor="middle" fill="#222" font-family='"Liberation Sans", sans-serif' >MeOH</text>
<rect x="711" y="144.72" width="7.9" height="236.88" fill="url(#gb1)" stroke="none" stroke-width="0" />
<text transform="translate(714.95,399.5) scale(1,1.15)" font-size="10.6" font-weight="bold" text-anchor="middle" fill="#000" font-family='"Liberation Sans", sans-serif' >0</text>
<rect x="723.45" y="155.48" width="7.9" height="226.12" fill="url(#gb1)" stroke="none" stroke-width="0" />
<text transform="translate(727.4,399.5) scale(1,1.15)" font-size="10.6" font-weight="bold" text-anchor="middle" fill="#000" font-family='"Liberation Sans", sans-serif' >0.1</text>
<rect x="735.9" y="162.82" width="7.9" height="218.78" fill="url(#gb1)" stroke="none" stroke-width="0" />
<text transform="translate(739.85,399.5) scale(1,1.15)" font-size="10.6" font-weight="bold" text-anchor="middle" fill="#000" font-family='"Liberation Sans", sans-serif' >0.5</text>
<rect x="748.35" y="242.03" width="7.9" height="139.57" fill="url(#gb1)" stroke="none" stroke-width="0" />
<text transform="translate(752.3,399.5) scale(1,1.15)" font-size="10.6" font-weight="bold" text-anchor="middle" fill="#000" font-family='"Liberation Sans", sans-serif' >1</text>
<rect x="760.8" y="370.64" width="7.9" height="10.96" fill="url(#gb1)" stroke="none" stroke-width="0" />
<text transform="translate(764.75,399.5) scale(1,1.15)" font-size="10.6" font-weight="bold" text-anchor="middle" fill="#000" font-family='"Liberation Sans", sans-serif' >2</text>
<rect x="721.7" y="78.5" width="43.1" height="17.9" fill="#f6d7b9" stroke="none" stroke-width="0" />
<text x="743.25" y="91.4" font-size="10.5" font-weight="bold" text-anchor="middle" fill="#222" font-family='"Liberation Sans", sans-serif' >2, 4-HD</text>
<rect x="774.2" y="144.72" width="7.9" height="236.88" fill="url(#gb2)" stroke="none" stroke-width="0" />
<text transform="translate(778.15,399.5) scale(1,1.15)" font-size="10.6" font-weight="bold" text-anchor="middle" fill="#000" font-family='"Liberation Sans", sans-serif' >0</text>
<rect x="786.65" y="347.17" width="7.9" height="34.43" fill="url(#gb2)" stroke="none" stroke-width="0" />
<text transform="translate(790.6,399.5) scale(1,1.15)" font-size="10.6" font-weight="bold" text-anchor="middle" fill="#000" font-family='"Liberation Sans", sans-serif' >0.5</text>
<rect x="799.1" y="358.66" width="7.9" height="22.94" fill="url(#gb2)" stroke="none" stroke-width="0" />
<text transform="translate(803.05,399.5) scale(1,1.15)" font-size="10.6" font-weight="bold" text-anchor="middle" fill="#000" font-family='"Liberation Sans", sans-serif' >1</text>
<rect x="811.55" y="362.82" width="7.9" height="18.78" fill="url(#gb2)" stroke="none" stroke-width="0" />
<text transform="translate(815.5,399.5) scale(1,1.15)" font-size="10.6" font-weight="bold" text-anchor="middle" fill="#000" font-family='"Liberation Sans", sans-serif' >2</text>
<rect x="824" y="370.64" width="7.9" height="10.96" fill="url(#gb2)" stroke="none" stroke-width="0" />
<text transform="translate(827.95,399.5) scale(1,1.15)" font-size="10.6" font-weight="bold" text-anchor="middle" fill="#000" font-family='"Liberation Sans", sans-serif' >10</text>
<rect x="792.3" y="78.5" width="24.9" height="17.9" fill="#c9d9f3" stroke="none" stroke-width="0" />
<text x="804.75" y="91.4" font-size="10.5" font-weight="bold" text-anchor="middle" fill="#222" font-family='"Liberation Sans", sans-serif' >FFA</text>
<rect x="838.6" y="144.72" width="7.9" height="236.88" fill="url(#gb3)" stroke="none" stroke-width="0" />
<text transform="translate(842.55,399.5) scale(1,1.15)" font-size="10.6" font-weight="bold" text-anchor="middle" fill="#000" font-family='"Liberation Sans", sans-serif' >0</text>
<rect x="851.05" y="239.1" width="7.9" height="142.5" fill="url(#gb3)" stroke="none" stroke-width="0" />
<text transform="translate(855,399.5) scale(1,1.15)" font-size="10.6" font-weight="bold" text-anchor="middle" fill="#000" font-family='"Liberation Sans", sans-serif' >0.5</text>
<rect x="863.5" y="274.31" width="7.9" height="107.29" fill="url(#gb3)" stroke="none" stroke-width="0" />
<text transform="translate(867.45,399.5) scale(1,1.15)" font-size="10.6" font-weight="bold" text-anchor="middle" fill="#000" font-family='"Liberation Sans", sans-serif' >1</text>
<rect x="875.95" y="302.18" width="7.9" height="79.42" fill="url(#gb3)" stroke="none" stroke-width="0" />
<text transform="translate(879.9,399.5) scale(1,1.15)" font-size="10.6" font-weight="bold" text-anchor="middle" fill="#000" font-family='"Liberation Sans", sans-serif' >2</text>
<rect x="888.4" y="348.88" width="7.9" height="32.72" fill="url(#gb3)" stroke="none" stroke-width="0" />
<text transform="translate(892.35,399.5) scale(1,1.15)" font-size="10.6" font-weight="bold" text-anchor="middle" fill="#000" font-family='"Liberation Sans", sans-serif' >10</text>
<rect x="855" y="78.6" width="21.8" height="15.7" fill="#d3eedd" stroke="none" stroke-width="0" />
<text x="865.9" y="89.3" font-size="10.5" font-weight="bold" text-anchor="middle" fill="#222" font-family='"Liberation Sans", sans-serif' >HIS</text>
<rect x="902" y="144.72" width="7.9" height="236.88" fill="url(#gb4)" stroke="none" stroke-width="0" />
<text transform="translate(905.95,399.5) scale(1,1.15)" font-size="10.6" font-weight="bold" text-anchor="middle" fill="#000" font-family='"Liberation Sans", sans-serif' >0</text>
<rect x="914.45" y="328.83" width="7.9" height="52.77" fill="url(#gb4)" stroke="none" stroke-width="0" />
<text transform="translate(918.4,399.5) scale(1,1.15)" font-size="10.6" font-weight="bold" text-anchor="middle" fill="#000" font-family='"Liberation Sans", sans-serif' >0.5</text>
<rect x="926.9" y="335.43" width="7.9" height="46.17" fill="url(#gb4)" stroke="none" stroke-width="0" />
<text transform="translate(930.85,399.5) scale(1,1.15)" font-size="10.6" font-weight="bold" text-anchor="middle" fill="#000" font-family='"Liberation Sans", sans-serif' >1</text>
<rect x="939.35" y="335.92" width="7.9" height="45.68" fill="url(#gb4)" stroke="none" stroke-width="0" />
<text transform="translate(943.3,399.5) scale(1,1.15)" font-size="10.6" font-weight="bold" text-anchor="middle" fill="#000" font-family='"Liberation Sans", sans-serif' >2</text>
<rect x="951.8" y="337.39" width="7.9" height="44.21" fill="url(#gb4)" stroke="none" stroke-width="0" />
<text transform="translate(955.75,399.5) scale(1,1.15)" font-size="10.6" font-weight="bold" text-anchor="middle" fill="#000" font-family='"Liberation Sans", sans-serif' >10</text>
<rect x="915.8" y="78.6" width="32.1" height="18.4" fill="#ddd1f1" stroke="none" stroke-width="0" />
<text x="931.85" y="92" font-size="10.5" font-weight="bold" text-anchor="middle" fill="#222" font-family='"Liberation Sans", sans-serif' >NaN<tspan font-size="70%" dy="3">3</tspan></text>
<rect x="965.6" y="144.72" width="7.9" height="236.88" fill="url(#gb5)" stroke="none" stroke-width="0" />
<text transform="translate(969.55,399.5) scale(1,1.15)" font-size="10.6" font-weight="bold" text-anchor="middle" fill="#000" font-family='"Liberation Sans", sans-serif' >0</text>
<rect x="978.05" y="152.3" width="7.9" height="229.3" fill="url(#gb5)" stroke="none" stroke-width="0" />
<text transform="translate(982,399.5) scale(1,1.15)" font-size="10.6" font-weight="bold" text-anchor="middle" fill="#000" font-family='"Liberation Sans", sans-serif' >0.5</text>
<rect x="990.5" y="173.57" width="7.9" height="208.03" fill="url(#gb5)" stroke="none" stroke-width="0" />
<text transform="translate(994.45,399.5) scale(1,1.15)" font-size="10.6" font-weight="bold" text-anchor="middle" fill="#000" font-family='"Liberation Sans", sans-serif' >1</text>
<rect x="1002.95" y="223.45" width="7.9" height="158.15" fill="url(#gb5)" stroke="none" stroke-width="0" />
<text transform="translate(1006.9,399.5) scale(1,1.15)" font-size="10.6" font-weight="bold" text-anchor="middle" fill="#000" font-family='"Liberation Sans", sans-serif' >2</text>
<rect x="1015.4" y="346.68" width="7.9" height="34.92" fill="url(#gb5)" stroke="none" stroke-width="0" />
<text transform="translate(1019.35,399.5) scale(1,1.15)" font-size="10.6" font-weight="bold" text-anchor="middle" fill="#000" font-family='"Liberation Sans", sans-serif' >10</text>
<rect x="976" y="78.6" width="38" height="17.4" fill="#e7f8b6" stroke="none" stroke-width="0" />
<text x="995" y="91" font-size="10.5" font-weight="bold" text-anchor="middle" fill="#222" font-family='"Liberation Sans", sans-serif' >DMSO</text>
<line x1="708.9" y1="76" x2="708.9" y2="381.6" stroke="#666" stroke-width="1.6" stroke-dasharray="3.2,2.2"/>
<line x1="772.3" y1="76" x2="772.3" y2="381.6" stroke="#666" stroke-width="1.6" stroke-dasharray="3.2,2.2"/>
<line x1="834.9" y1="76" x2="834.9" y2="381.6" stroke="#666" stroke-width="1.6" stroke-dasharray="3.2,2.2"/>
<line x1="898.1" y1="76" x2="898.1" y2="381.6" stroke="#666" stroke-width="1.6" stroke-dasharray="3.2,2.2"/>
<line x1="960.7" y1="76" x2="960.7" y2="381.6" stroke="#666" stroke-width="1.6" stroke-dasharray="3.2,2.2"/>
<circle cx="651.55" cy="98.6" r="4.1" fill="#fff" stroke="#c9523f" stroke-width="1.5"/>
<path d="M651.55,94.5 A4.1,4.1 0 0 0 651.55,102.7 Z" fill="#c9523f" stroke="#c9523f" stroke-width="0.8999999999999999"/>
<circle cx="664" cy="129.2" r="4.1" fill="#fff" stroke="#c9523f" stroke-width="1.5"/>
<path d="M664,125.1 A4.1,4.1 0 0 0 664,133.3 Z" fill="#c9523f" stroke="#c9523f" stroke-width="0.8999999999999999"/>
<circle cx="676.45" cy="155.1" r="4.1" fill="#fff" stroke="#c9523f" stroke-width="1.5"/>
<path d="M676.45,151 A4.1,4.1 0 0 0 676.45,159.2 Z" fill="#c9523f" stroke="#c9523f" stroke-width="0.8999999999999999"/>
<circle cx="688.9" cy="198.6" r="4.1" fill="#fff" stroke="#c9523f" stroke-width="1.5"/>
<path d="M688.9,194.5 A4.1,4.1 0 0 0 688.9,202.7 Z" fill="#c9523f" stroke="#c9523f" stroke-width="0.8999999999999999"/>
<circle cx="701.35" cy="228.5" r="4.1" fill="#fff" stroke="#c9523f" stroke-width="1.5"/>
<path d="M701.35,224.4 A4.1,4.1 0 0 0 701.35,232.6 Z" fill="#c9523f" stroke="#c9523f" stroke-width="0.8999999999999999"/>
<circle cx="714.95" cy="98.6" r="4.1" fill="#fff" stroke="#e79140" stroke-width="1.5"/>
<path d="M714.95,94.5 A4.1,4.1 0 0 0 714.95,102.7 Z" fill="#e79140" stroke="#e79140" stroke-width="0.8999999999999999"/>
<circle cx="727.4" cy="126.9" r="4.1" fill="#fff" stroke="#e79140" stroke-width="1.5"/>
<path d="M727.4,122.8 A4.1,4.1 0 0 0 727.4,131 Z" fill="#e79140" stroke="#e79140" stroke-width="0.8999999999999999"/>
<circle cx="739.85" cy="140.6" r="4.1" fill="#fff" stroke="#e79140" stroke-width="1.5"/>
<path d="M739.85,136.5 A4.1,4.1 0 0 0 739.85,144.7 Z" fill="#e79140" stroke="#e79140" stroke-width="0.8999999999999999"/>
<circle cx="752.3" cy="196.5" r="4.1" fill="#fff" stroke="#e79140" stroke-width="1.5"/>
<path d="M752.3,192.4 A4.1,4.1 0 0 0 752.3,200.6 Z" fill="#e79140" stroke="#e79140" stroke-width="0.8999999999999999"/>
<circle cx="764.75" cy="228.5" r="4.1" fill="#fff" stroke="#e79140" stroke-width="1.5"/>
<path d="M764.75,224.4 A4.1,4.1 0 0 0 764.75,232.6 Z" fill="#e79140" stroke="#e79140" stroke-width="0.8999999999999999"/>
<circle cx="778.15" cy="98.6" r="4.1" fill="#fff" stroke="#4a7bdb" stroke-width="1.5"/>
<path d="M778.15,94.5 A4.1,4.1 0 0 0 778.15,102.7 Z" fill="#4a7bdb" stroke="#4a7bdb" stroke-width="0.8999999999999999"/>
<circle cx="790.6" cy="223.2" r="4.1" fill="#fff" stroke="#4a7bdb" stroke-width="1.5"/>
<path d="M790.6,219.1 A4.1,4.1 0 0 0 790.6,227.3 Z" fill="#4a7bdb" stroke="#4a7bdb" stroke-width="0.8999999999999999"/>
<circle cx="803.05" cy="227" r="4.1" fill="#fff" stroke="#4a7bdb" stroke-width="1.5"/>
<path d="M803.05,222.9 A4.1,4.1 0 0 0 803.05,231.1 Z" fill="#4a7bdb" stroke="#4a7bdb" stroke-width="0.8999999999999999"/>
<circle cx="815.5" cy="227.5" r="4.1" fill="#fff" stroke="#4a7bdb" stroke-width="1.5"/>
<path d="M815.5,223.4 A4.1,4.1 0 0 0 815.5,231.6 Z" fill="#4a7bdb" stroke="#4a7bdb" stroke-width="0.8999999999999999"/>
<circle cx="827.95" cy="228.5" r="4.1" fill="#fff" stroke="#4a7bdb" stroke-width="1.5"/>
<path d="M827.95,224.4 A4.1,4.1 0 0 0 827.95,232.6 Z" fill="#4a7bdb" stroke="#4a7bdb" stroke-width="0.8999999999999999"/>
<circle cx="842.55" cy="98.3" r="4.1" fill="#fff" stroke="#6fa9a1" stroke-width="1.5"/>
<path d="M842.55,94.2 A4.1,4.1 0 0 0 842.55,102.4 Z" fill="#6fa9a1" stroke="#6fa9a1" stroke-width="0.8999999999999999"/>
<circle cx="855" cy="203.9" r="4.1" fill="#fff" stroke="#6fa9a1" stroke-width="1.5"/>
<path d="M855,199.8 A4.1,4.1 0 0 0 855,208 Z" fill="#6fa9a1" stroke="#6fa9a1" stroke-width="0.8999999999999999"/>
<circle cx="867.45" cy="214.9" r="4.1" fill="#fff" stroke="#6fa9a1" stroke-width="1.5"/>
<path d="M867.45,210.8 A4.1,4.1 0 0 0 867.45,219 Z" fill="#6fa9a1" stroke="#6fa9a1" stroke-width="0.8999999999999999"/>
<circle cx="879.9" cy="218.8" r="4.1" fill="#fff" stroke="#6fa9a1" stroke-width="1.5"/>
<path d="M879.9,214.7 A4.1,4.1 0 0 0 879.9,222.9 Z" fill="#6fa9a1" stroke="#6fa9a1" stroke-width="0.8999999999999999"/>
<circle cx="892.35" cy="224.2" r="4.1" fill="#fff" stroke="#6fa9a1" stroke-width="1.5"/>
<path d="M892.35,220.1 A4.1,4.1 0 0 0 892.35,228.3 Z" fill="#6fa9a1" stroke="#6fa9a1" stroke-width="0.8999999999999999"/>
<circle cx="905.95" cy="98.3" r="4.1" fill="#fff" stroke="#9272ba" stroke-width="1.5"/>
<path d="M905.95,94.2 A4.1,4.1 0 0 0 905.95,102.4 Z" fill="#9272ba" stroke="#9272ba" stroke-width="0.8999999999999999"/>
<circle cx="918.4" cy="221.5" r="4.1" fill="#fff" stroke="#9272ba" stroke-width="1.5"/>
<path d="M918.4,217.4 A4.1,4.1 0 0 0 918.4,225.6 Z" fill="#9272ba" stroke="#9272ba" stroke-width="0.8999999999999999"/>
<circle cx="930.85" cy="222.8" r="4.1" fill="#fff" stroke="#9272ba" stroke-width="1.5"/>
<path d="M930.85,218.7 A4.1,4.1 0 0 0 930.85,226.9 Z" fill="#9272ba" stroke="#9272ba" stroke-width="0.8999999999999999"/>
<circle cx="943.3" cy="222.8" r="4.1" fill="#fff" stroke="#9272ba" stroke-width="1.5"/>
<path d="M943.3,218.7 A4.1,4.1 0 0 0 943.3,226.9 Z" fill="#9272ba" stroke="#9272ba" stroke-width="0.8999999999999999"/>
<circle cx="955.75" cy="221.9" r="4.1" fill="#fff" stroke="#9272ba" stroke-width="1.5"/>
<path d="M955.75,217.8 A4.1,4.1 0 0 0 955.75,226 Z" fill="#9272ba" stroke="#9272ba" stroke-width="0.8999999999999999"/>
<circle cx="969.55" cy="98.3" r="4.1" fill="#fff" stroke="#6aa152" stroke-width="1.5"/>
<path d="M969.55,94.2 A4.1,4.1 0 0 0 969.55,102.4 Z" fill="#6aa152" stroke="#6aa152" stroke-width="0.8999999999999999"/>
<circle cx="982" cy="123.5" r="4.1" fill="#fff" stroke="#6aa152" stroke-width="1.5"/>
<path d="M982,119.4 A4.1,4.1 0 0 0 982,127.6 Z" fill="#6aa152" stroke="#6aa152" stroke-width="0.8999999999999999"/>
<circle cx="994.45" cy="159" r="4.1" fill="#fff" stroke="#6aa152" stroke-width="1.5"/>
<path d="M994.45,154.9 A4.1,4.1 0 0 0 994.45,163.1 Z" fill="#6aa152" stroke="#6aa152" stroke-width="0.8999999999999999"/>
<circle cx="1006.9" cy="206.7" r="4.1" fill="#fff" stroke="#6aa152" stroke-width="1.5"/>
<path d="M1006.9,202.6 A4.1,4.1 0 0 0 1006.9,210.8 Z" fill="#6aa152" stroke="#6aa152" stroke-width="0.8999999999999999"/>
<circle cx="1019.35" cy="227.1" r="4.1" fill="#fff" stroke="#6aa152" stroke-width="1.5"/>
<path d="M1019.35,223 A4.1,4.1 0 0 0 1019.35,231.2 Z" fill="#6aa152" stroke="#6aa152" stroke-width="0.8999999999999999"/>
<rect x="645.4" y="76" width="380.4" height="305.6" fill="none" stroke="#000" stroke-width="3.4" />
<line x1="638.9" y1="381.4" x2="645.4" y2="381.4" stroke="#000" stroke-width="2.4" />
<text transform="translate(635.2,387) scale(1,1.05)" font-size="15.6" font-weight="bold" text-anchor="end" fill="#000" font-family='"Liberation Sans", sans-serif' >0</text>
<line x1="642.9" y1="356.95" x2="645.4" y2="356.95" stroke="#000" stroke-width="2.0" />
<line x1="638.9" y1="332.5" x2="645.4" y2="332.5" stroke="#000" stroke-width="2.4" />
<text transform="translate(635.2,338.1) scale(1,1.05)" font-size="15.6" font-weight="bold" text-anchor="end" fill="#000" font-family='"Liberation Sans", sans-serif' >20</text>
<line x1="642.9" y1="308.05" x2="645.4" y2="308.05" stroke="#000" stroke-width="2.0" />
<line x1="638.9" y1="283.6" x2="645.4" y2="283.6" stroke="#000" stroke-width="2.4" />
<text transform="translate(635.2,289.2) scale(1,1.05)" font-size="15.6" font-weight="bold" text-anchor="end" fill="#000" font-family='"Liberation Sans", sans-serif' >40</text>
<line x1="642.9" y1="259.15" x2="645.4" y2="259.15" stroke="#000" stroke-width="2.0" />
<line x1="638.9" y1="234.7" x2="645.4" y2="234.7" stroke="#000" stroke-width="2.4" />
<text transform="translate(635.2,240.3) scale(1,1.05)" font-size="15.6" font-weight="bold" text-anchor="end" fill="#000" font-family='"Liberation Sans", sans-serif' >60</text>
<line x1="642.9" y1="210.25" x2="645.4" y2="210.25" stroke="#000" stroke-width="2.0" />
<line x1="638.9" y1="185.8" x2="645.4" y2="185.8" stroke="#000" stroke-width="2.4" />
<text transform="translate(635.2,191.4) scale(1,1.05)" font-size="15.6" font-weight="bold" text-anchor="end" fill="#000" font-family='"Liberation Sans", sans-serif' >80</text>
<line x1="642.9" y1="161.35" x2="645.4" y2="161.35" stroke="#000" stroke-width="2.0" />
<line x1="638.9" y1="136.9" x2="645.4" y2="136.9" stroke="#000" stroke-width="2.4" />
<text transform="translate(635.2,142.5) scale(1,1.05)" font-size="15.6" font-weight="bold" text-anchor="end" fill="#000" font-family='"Liberation Sans", sans-serif' >100</text>
<line x1="642.9" y1="112.45" x2="645.4" y2="112.45" stroke="#000" stroke-width="2.0" />
<line x1="638.9" y1="88" x2="645.4" y2="88" stroke="#000" stroke-width="2.4" />
<text transform="translate(635.2,93.6) scale(1,1.05)" font-size="15.6" font-weight="bold" text-anchor="end" fill="#000" font-family='"Liberation Sans", sans-serif' >120</text>
<line x1="1025.8" y1="380.6" x2="1032.3" y2="380.6" stroke="#000" stroke-width="2.4" />
<text transform="translate(1033,385.6) scale(1,1.15)" font-size="12.8" font-weight="bold" text-anchor="start" fill="#000" font-family='"Liberation Sans", sans-serif' >-0.4</text>
<line x1="1025.8" y1="342.6" x2="1032.3" y2="342.6" stroke="#000" stroke-width="2.4" />
<text transform="translate(1033,347.6) scale(1,1.15)" font-size="12.8" font-weight="bold" text-anchor="start" fill="#000" font-family='"Liberation Sans", sans-serif' >-0.3</text>
<line x1="1025.8" y1="304.6" x2="1032.3" y2="304.6" stroke="#000" stroke-width="2.4" />
<text transform="translate(1033,309.6) scale(1,1.15)" font-size="12.8" font-weight="bold" text-anchor="start" fill="#000" font-family='"Liberation Sans", sans-serif' >-0.2</text>
<line x1="1025.8" y1="266.6" x2="1032.3" y2="266.6" stroke="#000" stroke-width="2.4" />
<text transform="translate(1033,271.6) scale(1,1.15)" font-size="12.8" font-weight="bold" text-anchor="start" fill="#000" font-family='"Liberation Sans", sans-serif' >-0.1</text>
<line x1="1025.8" y1="228.6" x2="1032.3" y2="228.6" stroke="#000" stroke-width="2.4" />
<text transform="translate(1033,233.6) scale(1,1.15)" font-size="12.8" font-weight="bold" text-anchor="start" fill="#000" font-family='"Liberation Sans", sans-serif' >0.0</text>
<line x1="1025.8" y1="190.6" x2="1032.3" y2="190.6" stroke="#000" stroke-width="2.4" />
<text transform="translate(1033,195.6) scale(1,1.15)" font-size="12.8" font-weight="bold" text-anchor="start" fill="#000" font-family='"Liberation Sans", sans-serif' >0.1</text>
<line x1="1025.8" y1="152.6" x2="1032.3" y2="152.6" stroke="#000" stroke-width="2.4" />
<text transform="translate(1033,157.6) scale(1,1.15)" font-size="12.8" font-weight="bold" text-anchor="start" fill="#000" font-family='"Liberation Sans", sans-serif' >0.2</text>
<line x1="1025.8" y1="114.6" x2="1032.3" y2="114.6" stroke="#000" stroke-width="2.4" />
<text transform="translate(1033,119.6) scale(1,1.15)" font-size="12.8" font-weight="bold" text-anchor="start" fill="#000" font-family='"Liberation Sans", sans-serif' >0.3</text>
<line x1="1025.8" y1="76.6" x2="1032.3" y2="76.6" stroke="#000" stroke-width="2.4" />
<text transform="translate(1033,81.6) scale(1,1.15)" font-size="12.8" font-weight="bold" text-anchor="start" fill="#000" font-family='"Liberation Sans", sans-serif' >0.4</text>
<text x="840" y="429.3" font-size="21" font-weight="bold" text-anchor="middle" fill="#000" font-family='"Liberation Sans", sans-serif' >Concentrations (mM)</text>
<text x="0" y="0" font-size="21" font-weight="bold" text-anchor="middle" fill="#000" font-family='"Liberation Sans", sans-serif' transform="translate(605.2,227.1) rotate(-90)">Removal rate (%)</text>
<text x="0" y="0" font-size="20.5" font-weight="bold" text-anchor="middle" fill="#000" font-family='"Liberation Sans", sans-serif' transform="translate(1062,223) rotate(90)"><tspan font-style="italic">k</tspan><tspan font-size="70%" dy="4">obs</tspan><tspan dy="-4"> (min</tspan><tspan font-size="70%" dy="-7">-1</tspan><tspan dy="7">)</tspan></text>
<text x="1100" y="63.5" font-size="52" font-weight="bold" text-anchor="start" fill="#000" font-family='"Liberation Sans", sans-serif' >c</text>
<rect x="1167.6" y="75.5" width="387.4" height="96.5" fill="#eef3f9" stroke="none" stroke-width="0" />
<rect x="1167.6" y="289.2" width="387.4" height="96.7" fill="#eef3f9" stroke="none" stroke-width="0" />
<text x="1171.3" y="166.8" font-size="16" font-weight="bold" text-anchor="start" fill="#000" font-family='"Liberation Sans", sans-serif' >PMSO</text>
<text x="1172" y="308.2" font-size="16" font-weight="bold" text-anchor="start" fill="#000" font-family='"Liberation Sans", sans-serif' >PMSO<tspan font-size="70%" dy="4">2</tspan></text>
<polyline points="1174.3,378.7 1211.72,375.14 1286.56,375.14 1361.4,373.36 1436.24,373.66 1548.5,373.95" fill="none" stroke="#6fb072" stroke-width="3.4" stroke-linejoin="round" stroke-linecap="round" stroke-dasharray="8,5"/>
<circle cx="1174.3" cy="378.7" r="4.6" fill="#fff" stroke="#6fb072" stroke-width="1.4"/>
<path d="M1174.3,374.1 A4.6,4.6 0 0 1 1174.3,383.3 Z" fill="#6fb072" stroke="#6fb072" stroke-width="0.84"/>
<circle cx="1211.72" cy="375.14" r="4.6" fill="#fff" stroke="#6fb072" stroke-width="1.4"/>
<path d="M1211.72,370.54 A4.6,4.6 0 0 1 1211.72,379.74 Z" fill="#6fb072" stroke="#6fb072" stroke-width="0.84"/>
<circle cx="1286.56" cy="375.14" r="4.6" fill="#fff" stroke="#6fb072" stroke-width="1.4"/>
<path d="M1286.56,370.54 A4.6,4.6 0 0 1 1286.56,379.74 Z" fill="#6fb072" stroke="#6fb072" stroke-width="0.84"/>
<circle cx="1361.4" cy="373.36" r="4.6" fill="#fff" stroke="#6fb072" stroke-width="1.4"/>
<path d="M1361.4,368.76 A4.6,4.6 0 0 1 1361.4,377.96 Z" fill="#6fb072" stroke="#6fb072" stroke-width="0.84"/>
<circle cx="1436.24" cy="373.66" r="4.6" fill="#fff" stroke="#6fb072" stroke-width="1.4"/>
<path d="M1436.24,369.06 A4.6,4.6 0 0 1 1436.24,378.26 Z" fill="#6fb072" stroke="#6fb072" stroke-width="0.84"/>
<circle cx="1548.5" cy="373.95" r="4.6" fill="#fff" stroke="#6fb072" stroke-width="1.4"/>
<path d="M1548.5,369.35 A4.6,4.6 0 0 1 1548.5,378.55 Z" fill="#6fb072" stroke="#6fb072" stroke-width="0.84"/>
<polyline points="1174.3,378.7 1211.72,378.7 1286.56,378.7 1361.4,378.7 1436.24,378.7 1548.5,378.7" fill="none" stroke="#4f7fdc" stroke-width="3.4" stroke-linejoin="round" stroke-linecap="round" stroke-dasharray="8,5"/>
<circle cx="1174.3" cy="378.7" r="4.6" fill="#fff" stroke="#4f7fdc" stroke-width="1.4"/>
<path d="M1174.3,374.1 A4.6,4.6 0 0 0 1174.3,383.3 Z" fill="#4f7fdc" stroke="#4f7fdc" stroke-width="0.84"/>
<circle cx="1211.72" cy="378.7" r="4.6" fill="#fff" stroke="#4f7fdc" stroke-width="1.4"/>
<path d="M1211.72,374.1 A4.6,4.6 0 0 0 1211.72,383.3 Z" fill="#4f7fdc" stroke="#4f7fdc" stroke-width="0.84"/>
<circle cx="1286.56" cy="378.7" r="4.6" fill="#fff" stroke="#4f7fdc" stroke-width="1.4"/>
<path d="M1286.56,374.1 A4.6,4.6 0 0 0 1286.56,383.3 Z" fill="#4f7fdc" stroke="#4f7fdc" stroke-width="0.84"/>
<circle cx="1361.4" cy="378.7" r="4.6" fill="#fff" stroke="#4f7fdc" stroke-width="1.4"/>
<path d="M1361.4,374.1 A4.6,4.6 0 0 0 1361.4,383.3 Z" fill="#4f7fdc" stroke="#4f7fdc" stroke-width="0.84"/>
<circle cx="1436.24" cy="378.7" r="4.6" fill="#fff" stroke="#4f7fdc" stroke-width="1.4"/>
<path d="M1436.24,374.1 A4.6,4.6 0 0 0 1436.24,383.3 Z" fill="#4f7fdc" stroke="#4f7fdc" stroke-width="0.84"/>
<circle cx="1548.5" cy="378.7" r="4.6" fill="#fff" stroke="#4f7fdc" stroke-width="1.4"/>
<path d="M1548.5,374.1 A4.6,4.6 0 0 0 1548.5,383.3 Z" fill="#4f7fdc" stroke="#4f7fdc" stroke-width="0.84"/>
<path d="M1174.3,378.7 C1180.54,374 1193.01,360.06 1211.72,350.52 C1230.43,340.98 1261.61,328.33 1286.56,321.46 C1311.51,314.58 1336.45,312.51 1361.4,309.3 C1386.35,306.08 1405.06,304.06 1436.24,302.18 C1467.42,300.3 1529.79,298.72 1548.5,298.02" fill="none" stroke="#d9615b" stroke-width="3.4" stroke-dasharray="8,5"/>
<path d="M1169.7,378.7 A4.6,4.6 0 0 1 1178.9,378.7 L1174.3,384.22 Z" fill="#fff" stroke="#d9615b" stroke-width="1.4" stroke-linejoin="miter"/>
<path d="M1169.7,378.7 A4.6,4.6 0 0 1 1178.9,378.7 Z" fill="#d9615b" stroke="#d9615b" stroke-width="0.84"/>
<path d="M1207.12,350.52 A4.6,4.6 0 0 1 1216.32,350.52 L1211.72,356.04 Z" fill="#fff" stroke="#d9615b" stroke-width="1.4" stroke-linejoin="miter"/>
<path d="M1207.12,350.52 A4.6,4.6 0 0 1 1216.32,350.52 Z" fill="#d9615b" stroke="#d9615b" stroke-width="0.84"/>
<path d="M1281.96,321.46 A4.6,4.6 0 0 1 1291.16,321.46 L1286.56,326.98 Z" fill="#fff" stroke="#d9615b" stroke-width="1.4" stroke-linejoin="miter"/>
<path d="M1281.96,321.46 A4.6,4.6 0 0 1 1291.16,321.46 Z" fill="#d9615b" stroke="#d9615b" stroke-width="0.84"/>
<path d="M1356.8,309.3 A4.6,4.6 0 0 1 1366,309.3 L1361.4,314.82 Z" fill="#fff" stroke="#d9615b" stroke-width="1.4" stroke-linejoin="miter"/>
<path d="M1356.8,309.3 A4.6,4.6 0 0 1 1366,309.3 Z" fill="#d9615b" stroke="#d9615b" stroke-width="0.84"/>
<path d="M1431.64,302.18 A4.6,4.6 0 0 1 1440.84,302.18 L1436.24,307.7 Z" fill="#fff" stroke="#d9615b" stroke-width="1.4" stroke-linejoin="miter"/>
<path d="M1431.64,302.18 A4.6,4.6 0 0 1 1440.84,302.18 Z" fill="#d9615b" stroke="#d9615b" stroke-width="0.84"/>
<path d="M1543.9,298.02 A4.6,4.6 0 0 1 1553.1,298.02 L1548.5,303.54 Z" fill="#fff" stroke="#d9615b" stroke-width="1.4" stroke-linejoin="miter"/>
<path d="M1543.9,298.02 A4.6,4.6 0 0 1 1553.1,298.02 Z" fill="#d9615b" stroke="#d9615b" stroke-width="0.84"/>
<polyline points="1174.3,82.1 1211.72,82.4 1286.56,82.4 1361.4,82.69 1436.24,82.69 1548.5,83.58" fill="none" stroke="#4f7fdc" stroke-width="3.4" stroke-linejoin="round" stroke-linecap="round" />
<circle cx="1174.3" cy="82.1" r="4.6" fill="#fff" stroke="#4f7fdc" stroke-width="1.4"/>
<path d="M1174.3,77.5 A4.6,4.6 0 0 0 1174.3,86.7 Z" fill="#4f7fdc" stroke="#4f7fdc" stroke-width="0.84"/>
<circle cx="1211.72" cy="82.4" r="4.6" fill="#fff" stroke="#4f7fdc" stroke-width="1.4"/>
<path d="M1211.72,77.8 A4.6,4.6 0 0 0 1211.72,87 Z" fill="#4f7fdc" stroke="#4f7fdc" stroke-width="0.84"/>
<circle cx="1286.56" cy="82.4" r="4.6" fill="#fff" stroke="#4f7fdc" stroke-width="1.4"/>
<path d="M1286.56,77.8 A4.6,4.6 0 0 0 1286.56,87 Z" fill="#4f7fdc" stroke="#4f7fdc" stroke-width="0.84"/>
<circle cx="1361.4" cy="82.69" r="4.6" fill="#fff" stroke="#4f7fdc" stroke-width="1.4"/>
<path d="M1361.4,78.09 A4.6,4.6 0 0 0 1361.4,87.29 Z" fill="#4f7fdc" stroke="#4f7fdc" stroke-width="0.84"/>
<circle cx="1436.24" cy="82.69" r="4.6" fill="#fff" stroke="#4f7fdc" stroke-width="1.4"/>
<path d="M1436.24,78.09 A4.6,4.6 0 0 0 1436.24,87.29 Z" fill="#4f7fdc" stroke="#4f7fdc" stroke-width="0.84"/>
<circle cx="1548.5" cy="83.58" r="4.6" fill="#fff" stroke="#4f7fdc" stroke-width="1.4"/>
<path d="M1548.5,78.98 A4.6,4.6 0 0 0 1548.5,88.18 Z" fill="#4f7fdc" stroke="#4f7fdc" stroke-width="0.84"/>
<polyline points="1174.3,82.1 1211.72,86.25 1286.56,86.25 1361.4,87.44 1436.24,87.74 1548.5,88.03" fill="none" stroke="#6eaba2" stroke-width="3.4" stroke-linejoin="round" stroke-linecap="round" />
<circle cx="1174.3" cy="82.1" r="4.6" fill="#fff" stroke="#6eaba2" stroke-width="1.4"/>
<path d="M1174.3,77.5 A4.6,4.6 0 0 1 1174.3,86.7 Z" fill="#6eaba2" stroke="#6eaba2" stroke-width="0.84"/>
<circle cx="1211.72" cy="86.25" r="4.6" fill="#fff" stroke="#6eaba2" stroke-width="1.4"/>
<path d="M1211.72,81.65 A4.6,4.6 0 0 1 1211.72,90.85 Z" fill="#6eaba2" stroke="#6eaba2" stroke-width="0.84"/>
<circle cx="1286.56" cy="86.25" r="4.6" fill="#fff" stroke="#6eaba2" stroke-width="1.4"/>
<path d="M1286.56,81.65 A4.6,4.6 0 0 1 1286.56,90.85 Z" fill="#6eaba2" stroke="#6eaba2" stroke-width="0.84"/>
<circle cx="1361.4" cy="87.44" r="4.6" fill="#fff" stroke="#6eaba2" stroke-width="1.4"/>
<path d="M1361.4,82.84 A4.6,4.6 0 0 1 1361.4,92.04 Z" fill="#6eaba2" stroke="#6eaba2" stroke-width="0.84"/>
<circle cx="1436.24" cy="87.74" r="4.6" fill="#fff" stroke="#6eaba2" stroke-width="1.4"/>
<path d="M1436.24,83.14 A4.6,4.6 0 0 1 1436.24,92.34 Z" fill="#6eaba2" stroke="#6eaba2" stroke-width="0.84"/>
<circle cx="1548.5" cy="88.03" r="4.6" fill="#fff" stroke="#6eaba2" stroke-width="1.4"/>
<path d="M1548.5,83.43 A4.6,4.6 0 0 1 1548.5,92.63 Z" fill="#6eaba2" stroke="#6eaba2" stroke-width="0.84"/>
<path d="M1174.3,82.1 C1180.54,87.54 1193.01,104.94 1211.72,114.73 C1230.43,124.51 1261.61,134.6 1286.56,140.83 C1311.51,147.06 1336.45,148.93 1361.4,152.1 C1386.35,155.26 1405.06,157.93 1436.24,159.81 C1467.42,161.69 1529.79,162.78 1548.5,163.37" fill="none" stroke="#d9615b" stroke-width="3.4"/>
<path d="M1169.7,82.1 A4.6,4.6 0 0 1 1178.9,82.1 L1174.3,87.62 Z" fill="#fff" stroke="#d9615b" stroke-width="1.4" stroke-linejoin="miter"/>
<path d="M1169.7,82.1 A4.6,4.6 0 0 1 1178.9,82.1 Z" fill="#d9615b" stroke="#d9615b" stroke-width="0.84"/>
<path d="M1207.12,114.73 A4.6,4.6 0 0 1 1216.32,114.73 L1211.72,120.25 Z" fill="#fff" stroke="#d9615b" stroke-width="1.4" stroke-linejoin="miter"/>
<path d="M1207.12,114.73 A4.6,4.6 0 0 1 1216.32,114.73 Z" fill="#d9615b" stroke="#d9615b" stroke-width="0.84"/>
<path d="M1281.96,140.83 A4.6,4.6 0 0 1 1291.16,140.83 L1286.56,146.35 Z" fill="#fff" stroke="#d9615b" stroke-width="1.4" stroke-linejoin="miter"/>
<path d="M1281.96,140.83 A4.6,4.6 0 0 1 1291.16,140.83 Z" fill="#d9615b" stroke="#d9615b" stroke-width="0.84"/>
<path d="M1356.8,152.1 A4.6,4.6 0 0 1 1366,152.1 L1361.4,157.62 Z" fill="#fff" stroke="#d9615b" stroke-width="1.4" stroke-linejoin="miter"/>
<path d="M1356.8,152.1 A4.6,4.6 0 0 1 1366,152.1 Z" fill="#d9615b" stroke="#d9615b" stroke-width="0.84"/>
<path d="M1431.64,159.81 A4.6,4.6 0 0 1 1440.84,159.81 L1436.24,165.33 Z" fill="#fff" stroke="#d9615b" stroke-width="1.4" stroke-linejoin="miter"/>
<path d="M1431.64,159.81 A4.6,4.6 0 0 1 1440.84,159.81 Z" fill="#d9615b" stroke="#d9615b" stroke-width="0.84"/>
<path d="M1543.9,163.37 A4.6,4.6 0 0 1 1553.1,163.37 L1548.5,168.89 Z" fill="#fff" stroke="#d9615b" stroke-width="1.4" stroke-linejoin="miter"/>
<path d="M1543.9,163.37 A4.6,4.6 0 0 1 1553.1,163.37 Z" fill="#d9615b" stroke="#d9615b" stroke-width="0.84"/>
<rect x="1167.6" y="75.5" width="387.4" height="310.4" fill="none" stroke="#000" stroke-width="3.2" />
<line x1="1161.1" y1="378.7" x2="1167.6" y2="378.7" stroke="#000" stroke-width="2.4" />
<line x1="1555" y1="378.7" x2="1561.5" y2="378.7" stroke="#000" stroke-width="2.4" />
<text x="1158.5" y="384.3" font-size="16" font-weight="bold" text-anchor="end" fill="#000" font-family='"Liberation Sans", sans-serif' >0</text>
<text x="1563.5" y="384.3" font-size="16" font-weight="bold" text-anchor="start" fill="#000" font-family='"Liberation Sans", sans-serif' >0</text>
<line x1="1164.1" y1="349.04" x2="1167.6" y2="349.04" stroke="#000" stroke-width="2.0" />
<line x1="1555" y1="349.04" x2="1558.5" y2="349.04" stroke="#000" stroke-width="2.0" />
<line x1="1161.1" y1="319.38" x2="1167.6" y2="319.38" stroke="#000" stroke-width="2.4" />
<line x1="1555" y1="319.38" x2="1561.5" y2="319.38" stroke="#000" stroke-width="2.4" />
<text x="1158.5" y="324.98" font-size="16" font-weight="bold" text-anchor="end" fill="#000" font-family='"Liberation Sans", sans-serif' >20</text>
<text x="1563.5" y="324.98" font-size="16" font-weight="bold" text-anchor="start" fill="#000" font-family='"Liberation Sans", sans-serif' >20</text>
<line x1="1164.1" y1="289.72" x2="1167.6" y2="289.72" stroke="#000" stroke-width="2.0" />
<line x1="1555" y1="289.72" x2="1558.5" y2="289.72" stroke="#000" stroke-width="2.0" />
<line x1="1161.1" y1="260.06" x2="1167.6" y2="260.06" stroke="#000" stroke-width="2.4" />
<line x1="1555" y1="260.06" x2="1561.5" y2="260.06" stroke="#000" stroke-width="2.4" />
<text x="1158.5" y="265.66" font-size="16" font-weight="bold" text-anchor="end" fill="#000" font-family='"Liberation Sans", sans-serif' >40</text>
<text x="1563.5" y="265.66" font-size="16" font-weight="bold" text-anchor="start" fill="#000" font-family='"Liberation Sans", sans-serif' >40</text>
<line x1="1164.1" y1="230.4" x2="1167.6" y2="230.4" stroke="#000" stroke-width="2.0" />
<line x1="1555" y1="230.4" x2="1558.5" y2="230.4" stroke="#000" stroke-width="2.0" />
<line x1="1161.1" y1="200.74" x2="1167.6" y2="200.74" stroke="#000" stroke-width="2.4" />
<line x1="1555" y1="200.74" x2="1561.5" y2="200.74" stroke="#000" stroke-width="2.4" />
<text x="1158.5" y="206.34" font-size="16" font-weight="bold" text-anchor="end" fill="#000" font-family='"Liberation Sans", sans-serif' >60</text>
<text x="1563.5" y="206.34" font-size="16" font-weight="bold" text-anchor="start" fill="#000" font-family='"Liberation Sans", sans-serif' >60</text>
<line x1="1164.1" y1="171.08" x2="1167.6" y2="171.08" stroke="#000" stroke-width="2.0" />
<line x1="1555" y1="171.08" x2="1558.5" y2="171.08" stroke="#000" stroke-width="2.0" />
<line x1="1161.1" y1="141.42" x2="1167.6" y2="141.42" stroke="#000" stroke-width="2.4" />
<line x1="1555" y1="141.42" x2="1561.5" y2="141.42" stroke="#000" stroke-width="2.4" />
<text x="1158.5" y="147.02" font-size="16" font-weight="bold" text-anchor="end" fill="#000" font-family='"Liberation Sans", sans-serif' >80</text>
<text x="1563.5" y="147.02" font-size="16" font-weight="bold" text-anchor="start" fill="#000" font-family='"Liberation Sans", sans-serif' >80</text>
<line x1="1164.1" y1="111.76" x2="1167.6" y2="111.76" stroke="#000" stroke-width="2.0" />
<line x1="1555" y1="111.76" x2="1558.5" y2="111.76" stroke="#000" stroke-width="2.0" />
<line x1="1161.1" y1="82.1" x2="1167.6" y2="82.1" stroke="#000" stroke-width="2.4" />
<line x1="1555" y1="82.1" x2="1561.5" y2="82.1" stroke="#000" stroke-width="2.4" />
<text x="1158.5" y="87.7" font-size="16" font-weight="bold" text-anchor="end" fill="#000" font-family='"Liberation Sans", sans-serif' >100</text>
<text x="1563.5" y="87.7" font-size="16" font-weight="bold" text-anchor="start" fill="#000" font-family='"Liberation Sans", sans-serif' >100</text>
<line x1="1174.3" y1="385.9" x2="1174.3" y2="391.4" stroke="#000" stroke-width="2.4" />
<text x="1174.3" y="408.2" font-size="16" font-weight="bold" text-anchor="middle" fill="#000" font-family='"Liberation Sans", sans-serif' >0</text>
<line x1="1211.72" y1="385.9" x2="1211.72" y2="388.9" stroke="#000" stroke-width="2.0" />
<line x1="1249.14" y1="385.9" x2="1249.14" y2="391.4" stroke="#000" stroke-width="2.4" />
<text x="1249.14" y="408.2" font-size="16" font-weight="bold" text-anchor="middle" fill="#000" font-family='"Liberation Sans", sans-serif' >2</text>
<line x1="1286.56" y1="385.9" x2="1286.56" y2="388.9" stroke="#000" stroke-width="2.0" />
<line x1="1323.98" y1="385.9" x2="1323.98" y2="391.4" stroke="#000" stroke-width="2.4" />
<text x="1323.98" y="408.2" font-size="16" font-weight="bold" text-anchor="middle" fill="#000" font-family='"Liberation Sans", sans-serif' >4</text>
<line x1="1361.4" y1="385.9" x2="1361.4" y2="388.9" stroke="#000" stroke-width="2.0" />
<line x1="1398.82" y1="385.9" x2="1398.82" y2="391.4" stroke="#000" stroke-width="2.4" />
<text x="1398.82" y="408.2" font-size="16" font-weight="bold" text-anchor="middle" fill="#000" font-family='"Liberation Sans", sans-serif' >6</text>
<line x1="1436.24" y1="385.9" x2="1436.24" y2="388.9" stroke="#000" stroke-width="2.0" />
<line x1="1473.66" y1="385.9" x2="1473.66" y2="391.4" stroke="#000" stroke-width="2.4" />
<text x="1473.66" y="408.2" font-size="16" font-weight="bold" text-anchor="middle" fill="#000" font-family='"Liberation Sans", sans-serif' >8</text>
<line x1="1511.08" y1="385.9" x2="1511.08" y2="388.9" stroke="#000" stroke-width="2.0" />
<line x1="1548.5" y1="385.9" x2="1548.5" y2="391.4" stroke="#000" stroke-width="2.4" />
<text x="1548.5" y="408.2" font-size="16" font-weight="bold" text-anchor="middle" fill="#000" font-family='"Liberation Sans", sans-serif' >10</text>
<text x="1361" y="442.5" font-size="21" font-weight="bold" text-anchor="middle" fill="#000" font-family='"Liberation Sans", sans-serif' >Time (min)</text>
<text x="0" y="0" font-size="21.7" font-weight="bold" text-anchor="middle" fill="#000" font-family='"Liberation Sans", sans-serif' transform="translate(1131,229.5) rotate(-90)">PMSO (μM)</text>
<text x="0" y="0" font-size="21.8" font-weight="bold" text-anchor="middle" fill="#000" font-family='"Liberation Sans", sans-serif' transform="translate(1590.5,226.4) rotate(90)">PMSO<tspan font-size="70%" dy="4">2</tspan><tspan dy="-4"> (μM)</tspan></text>
<line x1="1394.2" y1="206" x2="1434.4" y2="206" stroke="#4f7fdc" stroke-width="3.4" />
<circle cx="1414.3" cy="206" r="4.6" fill="#fff" stroke="#4f7fdc" stroke-width="1.4"/>
<path d="M1414.3,201.4 A4.6,4.6 0 0 0 1414.3,210.6 Z" fill="#4f7fdc" stroke="#4f7fdc" stroke-width="0.84"/>
<text x="1439" y="211.8" font-size="16" font-weight="bold" text-anchor="start" fill="#000" font-family='"Liberation Sans", sans-serif' >Co-MnO<tspan font-size="70%" dy="4">2</tspan><tspan dy="-4"> alone</tspan></text>
<line x1="1394.2" y1="232.5" x2="1434.4" y2="232.5" stroke="#6eaba2" stroke-width="3.4" />
<circle cx="1414.3" cy="232.5" r="4.6" fill="#fff" stroke="#6eaba2" stroke-width="1.4"/>
<path d="M1414.3,227.9 A4.6,4.6 0 0 1 1414.3,237.1 Z" fill="#6eaba2" stroke="#6eaba2" stroke-width="0.84"/>
<text x="1439" y="238.3" font-size="16" font-weight="bold" text-anchor="start" fill="#000" font-family='"Liberation Sans", sans-serif' >PAA alone</text>
<line x1="1394.2" y1="256.5" x2="1434.4" y2="256.5" stroke="#d9615b" stroke-width="3.4" />
<path d="M1409.7,256.5 A4.6,4.6 0 0 1 1418.9,256.5 L1414.3,262.02 Z" fill="#fff" stroke="#d9615b" stroke-width="1.4" stroke-linejoin="miter"/>
<path d="M1409.7,256.5 A4.6,4.6 0 0 1 1418.9,256.5 Z" fill="#d9615b" stroke="#d9615b" stroke-width="0.84"/>
<text x="1439" y="262.3" font-size="16" font-weight="bold" text-anchor="start" fill="#000" font-family='"Liberation Sans", sans-serif' >Co-MnO<tspan font-size="70%" dy="4">2</tspan><tspan dy="-4">/PAA</tspan></text>
<text x="47" y="514.8" font-size="52" font-weight="bold" text-anchor="start" fill="#000" font-family='"Liberation Sans", sans-serif' >d</text>
<polyline points="141,558.17 143,560.02 145,559 147,559.09 149,561.1 151,559.58 153,559.42 155,560.1 157,560.41 159,559.3 161,559.76 163,558.23 165,558.64 167,558.42 169,557.46 171,557.14 173,556.87 175,557.97 177,557.89 179,557.64 181,557.89 183,556.55 185,557.63 187,557.88 189,558.33 191,556.91 193,557.34 195,555.92 197,557.33 199,555.85 201,556.6 203,558.91 205,555.96 207,558.68 209,558.25 211,557.66 213,558.32 215,558.33 217,558.72 219,557.49 221,557.08 223,556.97 225,556.53 227,557.29 229,556.55 231,558.16 233,555.47 235,556.15 237,556.28 239,555.29 241,558.95 243,555.16 245,557.19 247,557.1 249,559.22 251,556.11 253,559.04 255,557.59 257,558.28 259,557.98 261,559.3 263,557.83 265,558.89 267,559.36 269,560.75 271,556.96 273,560.5 275,559.96 277,558.63 279,559.29 281,558.53 283,560.36 285,558.99 287,558.54 289,558.47 291,558.45 293,558.45 295,557.81 297,560.47 299,556.94 301,555.48 303,558.7 305,558.78 307,559.38 309,559 311,559.2 313,559.79 315,560.52 317,559.4 319,559.62 321,561.84 323,560.69 325,559.44 327,562.51 329,561.18 331,560 333,559.5 335,560.83 337,559.79 339,559.56 341,559.29 343,559.93 345,561.31 347,559.83 349,558.82 351,560.63 353,559.99 355,560.59 357,560.81 359,559.49 361,559.42 363,559.43 365,558.38 367,559.93 369,560.49 371,559.35 373,558.91 375,558.82 377,558.28 379,558.18 381,558.46 383,557.98 385,558.25 387,557.13 389,558.76 391,558.39 393,557.22 395,556.1 397,558.09 399,559.02 401,557.33 403,557.53 405,557.45 407,558.57 409,557.2 411,558.99 413,557.92 415,559.14 417,558.46 419,558.36 421,557.39 423,558.24 425,558.77 427,559.73 429,559.47 431,558.72 433,559.79 435,560.35 437,559.35 439,559.07 441,559.07 443,560.08 445,559.74 447,558.31 449,559.35 451,558.44 453,558.04 455,559.69 457,559.17 459,557.64 461,558.25 463,558.52 465,557.42 467,557.82 469,558.49 471,556.27 473,558.17 475,558.56 477,558.38 479,556.76 481,558.29 483,557.26 485,558.59 487,558.64 489,558.3 491,557.4 493,557.53 495,558.79 497,557.15 499,558.32 501,558.24 503,557.42 505,559.72 507,557.51 509,559.27 510,555.47" fill="none" stroke="#f4dd9c" stroke-width="7.0" stroke-linejoin="round" stroke-linecap="round" stroke-linecap="butt"/>
<polyline points="141,609.61 143,610.26 145,610.71 147,610.2 149,611.21 151,609 153,609.87 155,609.21 157,609.19 159,609.8 161,610.24 163,610.5 165,610.66 167,612.28 169,611.1 171,608.92 173,610.55 175,609.79 177,609.84 179,611.39 181,609.91 183,608.21 185,610.08 187,609.35 189,608.35 191,608.37 193,608.42 195,608.75 197,608.19 199,608.46 201,609.89 203,607.39 205,607.29 207,607.73 209,608.92 211,607.31 213,609.29 215,606.89 217,607.24 219,608.24 221,607.64 223,608 225,609.1 227,609.47 229,609.04 231,608.8 233,610.33 235,609.55 237,609.01 239,610.33 241,608.41 243,609.35 245,609.75 247,609.1 249,608.54 251,609.32 253,608.48 255,608.4 257,608 259,610.11 261,608.48 263,610.08 265,609.48 267,609.02 269,609.99 271,609.8 273,609.84 275,608.66 277,610.14 279,611.05 281,610.84 283,611.43 285,611.98 287,611.07 289,612.5 291,609.32 293,610.38 295,608.16 297,610.91 299,609.88 301,610.76 301.3,608.8 301.6,607.19 301.9,610.05 302.2,607.56 302.5,607.49 302.8,608.32 303.1,608.88 303.4,607.69 303.7,608.13 304,606.07 304.3,609.1 304.6,607.25 304.9,607.17 305.2,607.31 305.5,606.64 305.8,606.34 306.1,604.98 306.4,605.33 306.7,605.4 307,605.48 307.3,603.91 307.6,603.5 307.9,603.02 308.2,602.38 308.5,601 308.8,599.25 309.1,597.33 309.4,596.65 309.7,593.25 310,589.8 310.3,589.25 310.6,582.96 310.9,579.01 311.2,574.95 311.5,571.51 311.8,572.69 312.1,572.99 312.4,576.98 312.7,584.22 313,592.78 313.3,602.2 313.6,612.78 313.9,625.1 314.2,632.89 314.5,638.61 314.8,644.92 315.1,646.57 315.4,646.37 315.7,645.05 316,641.49 316.3,639.26 316.6,633.64 316.9,629.89 317.2,627.33 317.5,622.93 317.8,622.03 318.1,619.21 318.4,618.87 318.7,615.89 319,616.1 319.3,613.51 319.6,613.9 319.9,613.74 320.2,613.66 320.5,614.52 320.8,613.97 321.1,610.71 321.4,610.86 321.7,612.31 322,611.24 322.3,609.3 322.6,610.66 322.9,608.92 323.2,608.87 323.5,608.23 323.8,608.86 324.1,610.84 324.4,608.89 324.7,608.18 325,610.26 325.3,607.31 325.6,607.3 325.9,606.9 326.2,607.2 326.5,606.22 326.8,607.47 327.1,605.54 327.4,605.92 327.7,605.2 328,603.78 328.3,603.19 328.6,603.47 328.9,600.83 329.2,602.18 329.5,601.36 329.8,600.33 330.1,598.78 330.4,597.47 330.7,594.73 331,593.05 331.3,587.97 331.6,586.8 331.9,581.48 332.2,579.01 332.5,574.83 332.8,572.39 333.1,570.91 333.4,573.45 333.7,574.02 334,578.9 334.3,587.28 334.6,596.14 334.9,605.84 335.2,615.11 335.5,625.01 335.8,634.71 336.1,639.4 336.4,645.12 336.7,647.24 337,646.69 337.3,643.83 337.6,643.82 337.9,638.72 338.2,635.05 338.5,630.89 338.8,627.05 339.1,624.77 339.4,622.78 339.7,619.87 340,619.16 340.3,618.83 340.6,617.18 340.9,615.88 341.2,616.22 341.5,615.5 341.8,614.96 342.1,612.97 342.4,611.62 342.7,613.56 343,612.52 343.3,611.79 343.6,612.22 343.9,611.06 344.2,610.61 344.5,612.49 344.8,609.17 345.1,611.07 345.4,610.96 345.7,611.38 346,609.76 346.3,609.73 346.6,608.19 346.9,608.77 347.2,606.59 347.5,607.69 347.8,607.88 348.1,607.52 348.4,606.87 348.7,608.02 349,605.21 349.3,606.39 349.6,605.53 349.9,605.51 350.2,605.07 350.5,606.28 350.8,603.03 351.1,604.56 351.4,603.89 351.7,601.65 352,600.14 352.3,598.24 352.6,596.91 352.9,597.44 353.2,591.14 353.5,590.5 353.8,586.09 354.1,584.78 354.4,579.74 354.7,574.99 355,573.3 355.3,572.79 355.6,573.32 355.9,575.02 356.2,580.45 356.5,587.2 356.8,596.62 357.1,606.05 357.4,615.9 357.7,624.53 358,633.84 358.3,638.88 358.6,642.75 358.9,645.06 359.2,645.13 359.5,643.52 359.8,639.31 360.1,638.84 360.4,634.53 360.7,631.6 361,626.81 361.3,625.02 361.6,622.17 361.9,620.1 362.2,620.15 362.5,616.79 362.8,616.86 363.1,614 363.4,615.39 363.7,614.17 364,612.92 364.3,612.86 364.6,611.09 364.9,611.68 365.2,612.45 365.5,609.63 365.8,612.68 366.1,612.33 366.4,610.54 366.7,609.67 367,609.54 367.3,609.46 367.6,609.75 367.9,612.22 368.2,609.1 368.5,610.65 368.8,610.97 369.1,608.88 369.4,609.38 369.7,610.12 370,608.83 372,610.05 374,610.56 376,608.43 378,607.66 380,608.93 382,608.76 384,607.89 386,608.58 388,608.95 390,609.5 392,610.27 394,609.01 396,608.46 398,608.34 400,611.62 402,609.71 404,609.82 406,612.47 408,611.3 410,612.32 412,610.14 414,609.64 416,609.73 418,610.72 420,610.44 422,610.35 424,611.95 426,611.08 428,608.84 430,610.19 432,610.33 434,609.15 436,611.94 438,610.74 440,611.35 442,609.6 444,609.15 446,610.96 448,610.2 450,609.94 452,610.45 454,610.77 456,610.73 458,610.4 460,610.97 462,613.08 464,611.42 466,609.76 468,611.89 470,609.43 472,608.27 474,608.2 476,607.38 478,610.04 480,607.81 482,607.33 484,607.94 486,608.13 488,607.08 490,607.62 492,608.09 494,608.68 496,607.27 498,608.68 500,608.49 502,608.85 504,607.98 506,607.53 508,609.56 510,609.32" fill="none" stroke="#e9a440" stroke-width="6.8" stroke-linejoin="round" stroke-linecap="round" stroke-linecap="butt"/>
<polyline points="141,722.34 143,719.62 145,721.48 147,719.48 149,722.38 151,721.42 153,722.3 155,720.46 157,721.1 159,720.32 161,719.76 163,720.42 165,719.04 167,719.77 169,720.66 171,720.07 173,719.66 175,722.06 177,720.23 179,719.77 181,720.59 183,720.15 185,720.46 187,720.69 189,723.03 191,721.42 193,721.74 195,722.35 197,723.71 199,721.81 201,721.54 203,724.39 205,720.88 207,721.87 209,722.78 211,724.2 213,721.24 215,719.86 217,722.58 219,721.46 221,721.53 223,722.27 225,722.04 227,722.11 229,721.49 231,723.09 233,723.36 235,722.13 237,721.8 239,722.99 241,722.88 243,721.63 245,722.27 247,723.72 249,722.76 251,722.6 253,723.11 255,722.87 257,722.85 259,721.02 261,724.21 263,722.66 265,721.51 267,722.98 269,722.15 271,721.66 273,722.35 275,723.2 277,721.44 279,722.15 281,722.47 283,719.43 285,719.72 287,720.74 289,718.36 291,719.51 293,720.73 295,720.27 297,719.51 299,716.74 301,719.67 301.3,717.87 301.6,717.87 301.9,717.42 302.2,715.21 302.5,715.21 302.8,715.15 303.1,717.68 303.4,714.89 303.7,715.09 304,714.71 304.3,715.05 304.6,714.56 304.9,713.88 305.2,711.99 305.5,709.74 305.8,712.11 306.1,711.52 306.4,711.63 306.7,709.57 307,708.12 307.3,707.86 307.6,704.67 307.9,703.38 308.2,701.23 308.5,699.69 308.8,697.97 309.1,692.71 309.4,688.25 309.7,681.96 310,676.02 310.3,669.22 310.6,663.55 310.9,656.74 311.2,654.63 311.5,653.69 311.8,657.73 312.1,663.09 312.4,672.52 312.7,685.1 313,698.19 313.3,715.76 313.6,733.33 313.9,747.51 314.2,762.49 314.5,772.54 314.8,779.07 315.1,784.97 315.4,785.17 315.7,784.26 316,779.86 316.3,775.27 316.6,767.02 316.9,764.65 317.2,758.11 317.5,751.24 317.8,746.12 318.1,743.07 318.4,740.48 318.7,737.66 319,735.53 319.3,731.68 319.6,731.01 319.9,732.02 320.2,729.97 320.5,727.45 320.8,727.18 321.1,725.87 321.4,725.52 321.7,726.81 322,724.88 322.3,725.47 322.6,724.01 322.9,721.88 323.2,722.09 323.5,724.2 323.8,720.86 324.1,720.05 324.4,721.59 324.7,720 325,719.36 325.3,720.14 325.6,716.61 325.9,718.01 326.2,716.05 326.5,715.09 326.8,714.97 327.1,716.07 327.4,714.14 327.7,711.79 328,711.6 328.3,713.07 328.6,711.55 328.9,708.38 329.2,710.17 329.5,705.88 329.8,703 330.1,701.37 330.4,699.15 330.7,695.88 331,690.71 331.3,684.04 331.6,678.01 331.9,670.99 332.2,666.22 332.5,660.42 332.8,657.29 333.1,654.13 333.4,655.85 333.7,659.83 334,667.35 334.3,678.52 334.6,692.65 334.9,708.41 335.2,726.76 335.5,742.65 335.8,756.07 336.1,769.94 336.4,778.7 336.7,785.26 337,785.83 337.3,784.92 337.6,781.22 337.9,777.05 338.2,771.53 338.5,765.06 338.8,758.64 339.1,753.86 339.4,748.58 339.7,744.6 340,740.11 340.3,738.39 340.6,735.05 340.9,733.37 341.2,732.8 341.5,733.33 341.8,731.24 342.1,729.38 342.4,728.36 342.7,728.66 343,728.31 343.3,727.49 343.6,725.57 343.9,725.31 344.2,724.27 344.5,723.77 344.8,722.72 345.1,722.77 345.4,720.53 345.7,720.93 346,721.96 346.3,720.24 346.6,721.13 346.9,718.98 347.2,719.36 347.5,719.58 347.8,717.77 348.1,717.57 348.4,719.99 348.7,716.54 349,715.96 349.3,715.49 349.6,715.42 349.9,714.7 350.2,714.9 350.5,713.94 350.8,711.96 351.1,711 351.4,708.87 351.7,707.42 352,706.45 352.3,705.78 352.6,702.73 352.9,700.33 353.2,696.82 353.5,691.52 353.8,688.72 354.1,680.92 354.4,675.19 354.7,669.83 355,666.29 355.3,661.27 355.6,658.58 355.9,659.81 356.2,663.35 356.5,668.12 356.8,676.91 357.1,689.79 357.4,703.49 357.7,718.56 358,732.44 358.3,748.18 358.6,761.41 358.9,770.22 359.2,780.93 359.5,784.82 359.8,786.37 360.1,788.11 360.4,783.4 360.7,778.33 361,773.73 361.3,768.71 361.6,763.38 361.9,757.37 362.2,751.96 362.5,748.08 362.8,744.58 363.1,741.57 363.4,740.24 363.7,737.96 364,736.96 364.3,734.91 364.6,733.83 364.9,733.57 365.2,732.65 365.5,733.34 365.8,730.84 366.1,731.29 366.4,730.55 366.7,728.92 367,730.35 367.3,729.43 367.6,726.98 367.9,729.11 368.2,729.1 368.5,727.2 368.8,729.21 369.1,727.54 369.4,726.1 369.7,727.45 370,726.4 370.3,725.31 370.6,724.38 370.9,726.41 371.2,725.35 371.5,726.47 371.8,726.09 372.1,725.13 374.1,724.41 376.1,726.01 378.1,725.56 380.1,724.36 382.1,723.06 384.1,722.24 386.1,722.55 388.1,724.22 390.1,722.93 392.1,722.07 394.1,721.07 396.1,722.23 398.1,721.18 400.1,721.94 402.1,722.57 404.1,722.86 406.1,722.02 408.1,721.6 410.1,722.16 412.1,723.65 414.1,722.38 416.1,720.79 418.1,723.52 420.1,722.33 422.1,725.27 424.1,721.61 426.1,721.89 428.1,721.61 430.1,722.1 432.1,721.08 434.1,720.1 436.1,719.51 438.1,720.97 440.1,720.42 442.1,720.17 444.1,722.47 446.1,721.1 448.1,721.23 450.1,719.67 452.1,720.33 454.1,719.83 456.1,719.84 458.1,720.74 460.1,720.69 462.1,720.52 464.1,720.51 466.1,719.21 468.1,720.02 470.1,721.22 472.1,720.72 474.1,720.52 476.1,721.73 478.1,720.71 480.1,721.07 482.1,722.59 484.1,721.54 486.1,723.22 488.1,722.42 490.1,722.68 492.1,722.96 494.1,719.92 496.1,721.78 498.1,720.62 500.1,721.33 502.1,721.62 504.1,722.82 506.1,721.64 508.1,723.18 510,721.23" fill="none" stroke="#e58f35" stroke-width="6.8" stroke-linejoin="round" stroke-linecap="round" stroke-linecap="butt"/>
<line x1="364.5" y1="574.6" x2="394.8" y2="574.6" stroke="#f4dd9c" stroke-width="5.5" />
<text x="396.6" y="578.6" font-size="11.5" font-weight="bold" text-anchor="start" fill="#222" font-family='"Liberation Sans", sans-serif' >TEMP-alone</text>
<line x1="365.8" y1="639.2" x2="395" y2="639.2" stroke="#e9a440" stroke-width="5.5" />
<text x="396.6" y="643.2" font-size="11.5" font-weight="bold" text-anchor="start" fill="#222" font-family='"Liberation Sans", sans-serif' >PAA+TEMP</text>
<line x1="363.3" y1="770.2" x2="393.6" y2="770.2" stroke="#e58f35" stroke-width="5.5" />
<text x="394.5" y="774.2" font-size="11.5" font-weight="bold" text-anchor="start" fill="#222" font-family='"Liberation Sans", sans-serif' >Co-MnO<tspan font-size="70%" dy="3">2</tspan><tspan dy="-3">+PAA+TEMP</tspan></text>
<text x="150.8" y="531.4" font-size="19.6" font-weight="bold" text-anchor="start" fill="#000" font-family='"Liberation Serif", serif' >TEMP-<tspan font-size="65%" dy="-7">1</tspan><tspan dy="7">O</tspan><tspan font-size="65%" dy="4">2</tspan></text>
<rect x="138.6" y="502.4" width="373.4" height="291.9" fill="none" stroke="#000" stroke-width="4.6" />
<line x1="138.2" y1="794.3" x2="138.2" y2="799.8" stroke="#000" stroke-width="3.5" />
<line x1="344.6" y1="794.3" x2="344.6" y2="799.8" stroke="#000" stroke-width="3.5" />
<line x1="241.4" y1="794.3" x2="241.4" y2="797.3" stroke="#000" stroke-width="2.5" />
<line x1="447.8" y1="794.3" x2="447.8" y2="797.3" stroke="#000" stroke-width="2.5" />
<text x="142.8" y="820.5" font-size="19.5" font-weight="bold" text-anchor="middle" fill="#000" font-family='"Liberation Serif", serif' >3160</text>
<text x="350.1" y="820.5" font-size="19.5" font-weight="bold" text-anchor="middle" fill="#000" font-family='"Liberation Serif", serif' >3170</text>
<text x="294.5" y="846.8" font-size="20.2" font-weight="bold" text-anchor="middle" fill="#000" font-family='"Liberation Sans", sans-serif' >Magnetic field (G)</text>
<text x="0" y="0" font-size="25" font-weight="bold" text-anchor="middle" fill="#000" font-family='"Liberation Sans", sans-serif' transform="translate(123,649) rotate(-90)">Intensity (a.u.)</text>
<text x="581" y="514.8" font-size="52" font-weight="bold" text-anchor="start" fill="#000" font-family='"Liberation Sans", sans-serif' >e</text>
<polyline points="640.5,549.15 641.8,547.35 643.1,546.43 644.4,548.12 645.7,548.91 647,549.8 648.3,547.03 649.6,547.06 650.9,549.68 652.2,549.51 653.5,550.95 654.8,550.37 656.1,549.12 657.4,549 658.7,552.65 660,549.15 661.3,548.6 662.6,548.21 663.9,549.8 665.2,549.89 666.5,549.3 667.8,549.66 669.1,550.08 670.4,550.59 671.7,551.08 673,549.95 674.3,547.42 675.6,550.49 676.9,547.8 678.2,549.32 679.5,547.65 680.8,549.46 682.1,548.45 683.4,549.66 684.7,553.49 686,549.28 687.3,550.38 688.6,547.66 689.9,548.96 691.2,550.16 692.5,549.23 693.8,549.84 695.1,549.54 696.4,548.2 697.7,550.21 699,548.54 700.3,551.95 701.6,549.04 702.9,550.59 704.2,549.8 705.5,551.04 706.8,549.16 708.1,551.21 709.4,549.85 710.7,551.62 712,550.85 713.3,550.26 714.6,549.11 715.9,551.04 717.2,550.65 718.5,552.08 719.8,549.52 721.1,550.62 722.4,550.49 723.7,550.13 725,549.95 726.3,549.81 727.6,548.72 728.9,548.08 730.2,548.73 731.5,549.84 732.8,550.86 734.1,550.06 735.4,550.02 736.7,549.55 738,549.33 739.3,548.57 740.6,549.19 741.9,550.34 743.2,547.62 744.5,547.09 745.8,550.33 747.1,548.13 748.4,548.99 749.7,548.83 751,546.29 752.3,550.73 753.6,549.9 754.9,547.89 756.2,548.61 757.5,547.82 758.8,546.55 760.1,547.49 760.4,548.09 760.7,549.01 761,548.49 761.3,547.67 761.6,549.28 761.9,546.62 762.2,548.55 762.5,548.93 762.8,547.15 763.1,545.26 763.4,546.34 763.7,547.74 764,548.07 764.3,549.3 764.6,546.07 764.9,547.26 765.2,548 765.5,546.89 765.8,544.01 766.1,547.82 766.4,549.49 766.7,547.59 767,544.85 767.3,545.06 767.6,545.33 767.9,547.52 768.2,544.42 768.5,542.91 768.8,543.73 769.1,540.6 769.4,541.89 769.7,537.56 770,536.73 770.3,537.25 770.6,537.37 770.9,535.94 771.2,535.39 771.5,533.06 771.8,535.23 772.1,536.63 772.4,538.46 772.7,542 773,543.31 773.3,547.4 773.6,549.29 773.9,551.49 774.2,554.6 774.5,557.24 774.8,559.64 775.1,559.38 775.4,560.62 775.7,559.65 776,563.36 776.3,562.78 776.6,560.03 776.9,558.7 777.2,556.63 777.5,557.16 777.8,555.95 778.1,557.17 778.4,553.52 778.7,551.07 779,547.86 779.3,551.61 779.6,549.09 779.9,545.95 780.2,547.42 780.5,544.59 780.8,550.6 781.1,547.55 781.4,547.07 781.7,546.59 782,544.8 782.3,548.09 782.6,547.08 782.9,550.44 783.2,547.49 783.5,549.24 783.8,551.83 784.1,552.03 784.4,547.93 784.7,546.74 785,548.85 785.3,547.77 785.6,544.31 785.9,543.37 786.2,541.91 786.5,539.66 786.8,538.48 787.1,538.94 787.4,536.17 787.7,535.8 788,531.13 788.3,529.34 788.6,526.96 788.9,527.29 789.2,525.81 789.5,526.08 789.8,530.93 790.1,534.54 790.4,537.29 790.7,542.08 791,545.35 791.3,548.95 791.6,554.67 791.9,558.45 792.2,561.28 792.5,563.52 792.8,565.86 793.1,568.86 793.4,569.33 793.7,568.05 794,569.3 794.3,566.13 794.6,564.74 794.9,563.5 795.2,558.9 795.5,555.52 795.8,557.16 796.1,553.79 796.4,554.95 796.7,552.62 797,552.53 797.3,551.47 797.6,547.3 797.9,550.28 798.2,548.09 798.5,547.58 798.8,547.6 799.1,548.72 799.4,548.46 799.7,548.19 800,544.38 800.3,545.19 800.6,542.38 800.9,544.58 801.2,544.76 801.5,542.3 801.8,542.76 802.1,541.91 802.4,542.02 802.7,538.88 803,538.05 803.3,537.36 803.6,539.83 803.9,538.45 804.2,536.54 804.5,536.77 804.8,536.64 805.1,537.01 805.4,537.01 805.7,537.63 806,537.52 806.3,539.57 806.6,543.95 806.9,544.25 807.2,545.5 807.5,547.09 807.8,549.4 808.1,551.72 808.4,552.35 808.7,555.16 809,556.79 809.3,556.93 809.6,558.01 809.9,558.62 810.2,559.16 810.5,561.95 810.8,557.99 811.1,560.49 811.4,559.74 811.7,559.24 812,559.52 812.3,560.08 812.6,557.98 812.9,556.88 813.2,555.45 813.5,555.23 813.8,555.73 814.1,553.35 814.4,551.7 814.7,550.91 815,550.52 815.3,549.64 815.6,552.28 815.9,550.92 816.2,549.79 816.5,551.55 816.8,548.57 817.1,550.01 817.4,549.75 817.7,546.47 818,546.09 818.3,546.44 818.6,548.22 818.9,548.06 819.2,544.09 819.5,545.91 819.8,542.84 820.1,541.25 820.4,539.18 820.7,537.32 821,533.12 821.3,531.74 821.6,529.18 821.9,529.42 822.2,530.12 822.5,530.49 822.8,527.31 823.1,527.41 823.4,532.09 823.7,535.52 824,544.08 824.3,547.65 824.6,551.38 824.9,558.42 825.2,562.12 825.5,562.59 825.8,565.97 826.1,567.18 826.4,567.3 826.7,566.4 827,564.16 827.3,562.82 827.6,559.72 827.9,557.28 828.2,558.42 828.5,555.36 828.8,554.12 829.1,550.51 829.4,551.46 829.7,552.03 830,548.87 830.3,551.42 830.6,549.17 830.9,549.79 831.2,548.74 831.5,548.77 831.8,549.55 832.1,547.03 832.4,548.93 832.7,545.38 833,544.52 833.3,545.84 833.6,542.85 833.9,542.91 834.2,543.68 834.5,543.23 834.8,538.68 835.1,540.77 835.4,541.79 835.7,540.33 836,538.06 836.3,537.28 836.6,537.52 836.9,536.5 837.2,537.87 837.5,538.46 837.8,539.22 838.1,541.82 838.4,541.19 838.7,540.98 839,545.61 839.3,544.56 839.6,547.03 839.9,549.16 840.2,550.62 840.5,551.47 840.8,554 841.1,558.5 841.4,556.31 841.7,558.01 842,560.49 842.3,560.7 842.6,561.19 842.9,561.57 843.2,558.09 843.5,559.34 843.8,560.29 844.1,560.32 844.4,560.77 844.7,559.11 845,557.53 845.3,557.15 845.6,556.09 845.9,555.91 846.2,555.72 846.5,553.75 846.8,552.49 847.1,551.82 847.4,553.67 847.7,553.36 848,552.5 848.3,551.85 848.6,551.36 848.9,549.85 849.2,550.21 849.5,547.55 849.8,548.04 850.1,546.71 850.4,547.75 850.7,545.19 851,544.69 851.3,544.04 851.6,543.77 851.9,539.43 852.2,537.46 852.5,537.77 852.8,533.49 853.1,533.66 853.4,530.84 853.7,530.26 854,527.47 854.3,530.63 854.6,529.85 854.9,530.88 855.2,536.92 855.5,538.27 855.8,545.44 856.1,545.68 856.4,549.08 856.7,554 857,559.99 857.3,561.62 857.6,565.28 857.9,567.68 858.2,567.43 858.5,569.47 858.8,568.68 859.1,567.1 859.4,568.57 859.7,566.76 860,564.21 860.3,561.04 860.6,557.7 860.9,558.88 861.2,556.31 861.5,552.61 861.8,553.06 862.1,549.83 862.4,550.47 862.7,549.69 863,549.23 863.3,548.62 863.6,548.46 863.9,547.03 864.2,548.46 864.5,548.99 864.8,550.12 865.1,551.52 865.4,552.59 865.7,554.3 866,549.23 866.3,552.89 866.6,551.88 866.9,554.55 867.2,552.36 867.5,548.58 867.8,550.6 868.1,548.94 868.4,550.35 868.7,547.33 869,548.07 869.3,547.56 869.6,547.08 869.9,545.85 870.2,543.54 870.5,545.53 870.8,545.15 871.1,542.6 871.4,540.06 871.7,540.14 872,539.14 872.3,536.88 872.6,536 872.9,537.1 873.2,533.8 873.5,535 873.8,534.5 874.1,537.86 874.4,540.22 874.7,542.76 875,546.1 875.3,552.16 875.6,552.33 875.9,554.63 876.2,559.13 876.5,557.26 876.8,555.5 877.1,557.96 877.4,555.65 877.7,557.96 878,553.3 878.3,553.05 878.6,550.76 878.9,552.01 879.2,549.89 879.5,550.52 879.8,549.72 880.1,549.14 880.4,550.9 880.7,550.78 881,549.63 881.3,548.41 881.6,548.2 881.9,549.88 882.2,552.55 882.5,549.01 882.8,548.61 883.1,548.73 883.4,548.24 883.7,548.39 884,549.35 884.3,551.39 884.6,549.59 884.9,548.94 885.2,547.54 886.5,549.75 887.8,549.37 889.1,547.78 890.4,547.87 891.7,549.08 893,550.31 894.3,549.73 895.6,549.1 896.9,548.33 898.2,549.03 899.5,548.51 900.8,551.13 902.1,546.89 903.4,547.74 904.7,549.68 906,547.67 907.3,549.7 908.6,547.78 909.9,547.95 911.2,547.24 912.5,545.93 913.8,546.41 915.1,550.37 916.4,548.4 917.7,548.36 919,548.82 920.3,548.37 921.6,548.99 922.9,547.44 924.2,547.57 925.5,549.16 926.8,547.58 928.1,546.46 929.4,547.95 930.7,547.66 932,549.22 933.3,547.67 934.6,547.36 935.9,548.38 937.2,550.84 938.5,548.94 939.8,549.3 941.1,549.2 942.4,549.63 943.7,550.49 945,551.13 946.3,547.38 947.6,551.17 948.9,549.49 950.2,549.11 951.5,552.51 952.8,549.3 954.1,551.93 955.4,550.69 956.7,548.17 958,550.04 959.3,550.32 960.6,549.2 961.9,546.42 963.2,548.87 964.5,549.03 965.8,547.86 967.1,551.51 968.4,548.91 969.7,548.72 971,548.84 972.3,548.25 973.6,548.28 974.9,549.4 976.2,549.71 977.5,548.73 978.8,549.31 980.1,547.74 981.4,550.2 982.7,548.68 984,549.96 985.3,548.63 986.6,549.19 987.9,550.18 989.2,548.47 990.5,553.14 991.8,550.06 993.1,550.07 994.4,549.28 995.7,552.23 997,551.99 998.3,550.64 999.6,548.55 1000.9,549.61 1002.2,550.98 1003.5,549.52 1004.8,548.63 1006.1,548.55 1007.4,548.99 1008,549.93" fill="none" stroke="#4b5a92" stroke-width="4.6" stroke-linejoin="round" stroke-linecap="round" stroke-linecap="butt"/>
<polyline points="640.5,623.91 642.5,623.91 644.5,625.23 646.5,624.68 648.5,624.56 650.5,626.37 652.5,624.66 654.5,624.16 656.5,624.16 658.5,624.9 660.5,625.89 662.5,626.07 664.5,626.3 666.5,626.85 668.5,626.71 670.5,625.82 672.5,626.32 674.5,625.74 676.5,624.71 678.5,625.8 680.5,625.16 682.5,624.93 684.5,626.71 686.5,625.75 688.5,624.78 690.5,625.17 692.5,627.19 694.5,625.18 696.5,626.07 698.5,626.06 700.5,626.06 702.5,626.21 704.5,625.41 706.5,625.47 708.5,625.74 710.5,625.59 712.5,626.51 714.5,627.05 716.5,625.01 718.5,626.07 720.5,624.7 722.5,624.79 724.5,625 726.5,625.1 728.5,624.49 730.5,622.55 732.5,625.62 734.5,624.13 736.5,623.69 738.5,624.64 740.5,623.51 742.5,622.77 744.5,624.29 746.5,624.22 748.5,623.22 750.5,624.61 752.5,624.28 754.5,623.12 756.5,625.54 758.5,624.42 760.5,623.36 762.5,624.73 764.5,624.53 766.5,625.27 768.5,623.43 770.5,625.39 772.5,625.31 774.5,625.1 776.5,625 778.5,625.53 780.5,625 782.5,624.46 784.5,623.62 786.5,625.15 788.5,625 790.5,624.42 792.5,624.28 794.5,624.76 796.5,622.16 798.5,624.51 800.5,622.31 802.5,624.63 804.5,625.42 806.5,626.24 808.5,624.48 810.5,625.38 812.5,625.14 814.5,623.56 816.5,626.11 818.5,625.65 820.5,625.85 822.5,625.13 824.5,625.94 826.5,626.09 828.5,627.09 830.5,626.28 832.5,628.84 834.5,625.62 836.5,625.65 838.5,625.73 840.5,625 842.5,626.77 844.5,625.95 846.5,624.27 848.5,625.28 850.5,626.03 852.5,623.87 854.5,625.08 856.5,624.72 858.5,626.78 860.5,625.22 862.5,624.56 864.5,624.46 866.5,626.48 868.5,624.6 870.5,626.87 872.5,623.79 874.5,624.92 876.5,624.9 878.5,624.52 880.5,624.89 882.5,625.58 884.5,624.42 886.5,623.71 888.5,625.86 890.5,625.84 892.5,623.95 894.5,624.62 896.5,622.14 898.5,624.93 900.5,622.87 902.5,623.38 904.5,625.48 906.5,622.62 908.5,623.61 910.5,622.69 912.5,622.07 914.5,622.65 916.5,623.88 918.5,622.68 920.5,623.37 922.5,624.57 924.5,623.99 926.5,623.21 928.5,625.64 930.5,624.67 932.5,625.86 934.5,623.99 936.5,626.33 938.5,623.96 940.5,623.71 942.5,624.83 944.5,624.9 946.5,625.42 948.5,624.75 950.5,625.69 952.5,626.22 954.5,624.57 956.5,623.94 958.5,624.7 960.5,625.66 962.5,625.64 964.5,624.69 966.5,624.19 968.5,625 970.5,625.85 972.5,624.56 974.5,626.28 976.5,625.5 978.5,625.66 980.5,625.03 982.5,626.75 984.5,625.78 986.5,624.63 988.5,626.57 990.5,625.62 992.5,626.86 994.5,626.13 996.5,625.46 998.5,626.05 1000.5,625.43 1002.5,625.05 1004.5,625.61 1006.5,626.12 1008,625.38" fill="none" stroke="#8fbadc" stroke-width="4.5" stroke-linejoin="round" stroke-linecap="round" stroke-linecap="butt"/>
<polyline points="640.5,687.29 642.5,686.57 644.5,688.31 646.5,688.7 648.5,688.58 650.5,688.76 652.5,688.31 654.5,687.97 656.5,687.86 658.5,688.29 660.5,688.15 662.5,689.17 664.5,688.88 666.5,687.32 668.5,688.84 670.5,688.2 672.5,689.07 674.5,689.35 676.5,688.56 678.5,686.68 680.5,688.65 682.5,686.9 684.5,689.49 686.5,687.78 688.5,688.27 690.5,690.02 692.5,687.28 694.5,688.89 696.5,688.16 698.5,688.78 700.5,688.72 702.5,690.07 704.5,689.41 706.5,690.06 708.5,690.39 710.5,688.56 712.5,691.12 714.5,689.8 716.5,688.64 718.5,689.41 720.5,690.58 722.5,690.6 724.5,689.13 726.5,689.66 728.5,689.65 730.5,690.18 732.5,689.11 734.5,689.91 736.5,688.3 738.5,688.36 740.5,689.43 742.5,689.44 744.5,688.79 746.5,689.32 748.5,689.01 750.5,689.49 752.5,689.85 754.5,689.36 756.5,689.65 758.5,688.69 760.5,688.58 762.5,687.12 764.5,689.37 766.5,689.03 768.5,689.39 770.5,687.36 772.5,688.4 774.5,688.23 776.5,687.09 778.5,689.16 780.5,689.28 782.5,687.1 784.5,688.36 786.5,689.27 788.5,686.76 790.5,688.46 792.5,688.88 794.5,689.06 796.5,686.4 798.5,686.66 800.5,687.74 802.5,688.62 804.5,686.7 806.5,687.23 808.5,687.07 810.5,689.03 812.5,687.82 814.5,688.9 816.5,689.11 818.5,689.67 820.5,689.18 822.5,689.23 824.5,689.99 826.5,689.49 828.5,688.11 830.5,688.73 832.5,689.91 834.5,689.27 836.5,688.84 838.5,689.29 840.5,691.77 842.5,688.97 844.5,689.37 846.5,689.32 848.5,688.71 850.5,689.91 852.5,689.66 854.5,689.32 856.5,687.94 858.5,690.16 860.5,689.84 862.5,689.24 864.5,687.21 866.5,689.48 868.5,688.64 870.5,689.54 872.5,689.4 874.5,689.2 876.5,690.76 878.5,690.04 880.5,690.96 882.5,689.11 884.5,689.69 886.5,690.87 888.5,689.91 890.5,688.91 892.5,688.62 894.5,688.7 896.5,688.94 898.5,689.4 900.5,688.79 902.5,689.14 904.5,689.06 906.5,688.35 908.5,689.21 910.5,688.68 912.5,687.87 914.5,687.87 916.5,687.99 918.5,687.41 920.5,686.96 922.5,688.14 924.5,687.75 926.5,688.72 928.5,687.81 930.5,688.44 932.5,688.57 934.5,688.06 936.5,688.63 938.5,687.88 940.5,688.11 942.5,689.09 944.5,688.7 946.5,688.32 948.5,687.61 950.5,688.76 952.5,689.76 954.5,686.26 956.5,688.86 958.5,688.13 960.5,688.83 962.5,688.88 964.5,687.11 966.5,689.42 968.5,687.58 970.5,687.96 972.5,688.8 974.5,688.36 976.5,688.81 978.5,688.33 980.5,688.08 982.5,689.12 984.5,688.37 986.5,690.53 988.5,689.77 990.5,690.84 992.5,688.75 994.5,688.14 996.5,688.01 998.5,689.59 1000.5,688.82 1002.5,690.14 1004.5,688.58 1006.5,688.56 1008,689.87" fill="none" stroke="#6fa0d0" stroke-width="4.5" stroke-linejoin="round" stroke-linecap="round" stroke-linecap="butt"/>
<polyline points="640.5,750.98 642.5,750.57 644.5,752.09 646.5,752.82 648.5,752.11 650.5,751.06 652.5,751.81 654.5,753.31 656.5,750.99 658.5,752.85 660.5,752.32 662.5,752.16 664.5,752.24 666.5,751.05 668.5,751.24 670.5,752.64 672.5,750.76 674.5,750.62 676.5,749.75 678.5,750.44 680.5,751.39 682.5,751.81 684.5,751.38 686.5,751.45 688.5,751.53 690.5,751.48 692.5,752.19 694.5,751.46 696.5,752.64 698.5,751.94 700.5,750.94 702.5,751.39 704.5,752.44 706.5,752.4 708.5,751.94 710.5,752.41 712.5,753.25 714.5,753.47 716.5,753.85 718.5,752.49 720.5,753.44 722.5,753.91 724.5,753.31 726.5,754.36 728.5,752.51 730.5,752.81 732.5,752.9 734.5,752.4 736.5,752.65 738.5,752.86 740.5,752.67 742.5,752.34 744.5,752.44 746.5,752.8 748.5,751.74 750.5,753.2 752.5,752.29 754.5,753.06 756.5,752.48 758.5,753.49 760.5,753.17 762.5,753.29 764.5,752.91 766.5,753.54 768.5,754.64 770.5,751.86 772.5,753.55 774.5,753.17 776.5,752.5 778.5,751.6 780.5,753.62 782.5,752.31 784.5,752.73 786.5,751.45 788.5,750.95 790.5,752.23 792.5,751.82 794.5,750.89 796.5,750.88 798.5,751.49 800.5,750.37 802.5,750.37 804.5,751.04 806.5,751.93 808.5,751.91 810.5,751.49 812.5,752.52 814.5,751.46 816.5,751.3 818.5,753.62 820.5,751.48 822.5,752.4 824.5,752.4 826.5,752.08 828.5,752.16 830.5,752.5 832.5,752.35 834.5,751.41 836.5,751.81 838.5,752.83 840.5,752.26 842.5,751.3 844.5,751.65 846.5,750.82 848.5,750.6 850.5,751.23 852.5,752.97 854.5,751.33 856.5,750.4 858.5,752.01 860.5,751.73 862.5,753.04 864.5,753.62 866.5,752.6 868.5,753.16 870.5,752.56 872.5,754.37 874.5,753.01 876.5,753.73 878.5,755.65 880.5,753.13 882.5,754 884.5,753.81 886.5,754.16 888.5,754.08 890.5,754.76 892.5,753.85 894.5,753.79 896.5,752.2 898.5,753.31 900.5,751.8 902.5,753.64 904.5,752.52 906.5,753.2 908.5,751.97 910.5,752.47 912.5,752.32 914.5,752.67 916.5,752.16 918.5,751.81 920.5,752.01 922.5,751.84 924.5,751.67 926.5,751.49 928.5,751.33 930.5,753.95 932.5,751.91 934.5,751.6 936.5,753.18 938.5,752.56 940.5,752.14 942.5,753.01 944.5,753.43 946.5,751.16 948.5,752.76 950.5,751.93 952.5,752.22 954.5,750.75 956.5,752.33 958.5,751.81 960.5,748.79 962.5,751.75 964.5,751.78 966.5,749.67 968.5,751.06 970.5,750.74 972.5,751.17 974.5,750.48 976.5,751.82 978.5,752.08 980.5,751.62 982.5,751.84 984.5,750.75 986.5,752.7 988.5,751.45 990.5,752.61 992.5,752.09 994.5,754.84 996.5,752.88 998.5,754.11 1000.5,752.89 1002.5,752.88 1004.5,753.45 1006.5,752.81 1008,754.61" fill="none" stroke="#8088c0" stroke-width="4.5" stroke-linejoin="round" stroke-linecap="round" stroke-linecap="butt"/>
<text x="769.8" y="535.1" font-size="14" font-weight="bold" text-anchor="middle" fill="#2020f0" font-family='"Liberation Serif", serif' >§</text>
<text x="780.5" y="543" font-size="14" font-weight="bold" text-anchor="middle" fill="#2020f0" font-family='"Liberation Serif", serif' >§</text>
<text x="788.3" y="524.9" font-size="14" font-weight="bold" text-anchor="middle" fill="#2020f0" font-family='"Liberation Serif", serif' >§</text>
<text x="854.1" y="526.5" font-size="14" font-weight="bold" text-anchor="middle" fill="#2020f0" font-family='"Liberation Serif", serif' >§</text>
<text x="863.6" y="539.5" font-size="14" font-weight="bold" text-anchor="middle" fill="#2020f0" font-family='"Liberation Serif", serif' >§</text>
<text x="871.7" y="532.8" font-size="14" font-weight="bold" text-anchor="middle" fill="#2020f0" font-family='"Liberation Serif", serif' >§</text>
<text x="768.7" y="520" font-size="7" font-weight="bold" text-anchor="middle" fill="#e02020" font-family='"Liberation Sans", sans-serif' >a</text>
<text x="787.5" y="509" font-size="7" font-weight="bold" text-anchor="middle" fill="#e02020" font-family='"Liberation Sans", sans-serif' >a</text>
<text x="801.2" y="525.2" font-size="7" font-weight="bold" text-anchor="middle" fill="#e02020" font-family='"Liberation Sans", sans-serif' >a</text>
<text x="819" y="517.7" font-size="7" font-weight="bold" text-anchor="middle" fill="#e02020" font-family='"Liberation Sans", sans-serif' >a</text>
<text x="834" y="527.9" font-size="7" font-weight="bold" text-anchor="middle" fill="#e02020" font-family='"Liberation Sans", sans-serif' >a</text>
<text x="852.9" y="509" font-size="7" font-weight="bold" text-anchor="middle" fill="#e02020" font-family='"Liberation Sans", sans-serif' >a</text>
<text x="870.2" y="515.8" font-size="7" font-weight="bold" text-anchor="middle" fill="#e02020" font-family='"Liberation Sans", sans-serif' >a</text>
<text x="930.8" y="511" font-size="7" font-weight="bold" text-anchor="middle" fill="#e02020" font-family='"Liberation Sans", sans-serif' >a</text>
<text x="933.8" y="516" font-size="15.5" font-weight="bold" text-anchor="start" fill="#000" font-family='"Liberation Sans", sans-serif' >-DMPOX</text>
<text x="926.5" y="540" font-size="16" font-weight="bold" text-anchor="middle" fill="#2020f0" font-family='"Liberation Serif", serif' >§</text>
<text x="931.3" y="537.2" font-size="15.5" font-weight="bold" text-anchor="start" fill="#000" font-family='"Liberation Sans", sans-serif' >-DMPO-R</text>
<text x="1002.3" y="575" font-size="15.2" font-weight="bold" text-anchor="end" fill="#000" font-family='"Liberation Sans", sans-serif' >Co-MnO<tspan font-size="70%" dy="4">2</tspan><tspan dy="-4">+PAA</tspan></text>
<text x="1002.3" y="648" font-size="15.2" font-weight="bold" text-anchor="end" fill="#000" font-family='"Liberation Sans", sans-serif' >Co-MnO<tspan font-size="70%" dy="4">2</tspan><tspan dy="-4"> alone</tspan></text>
<text x="1002.3" y="711.3" font-size="15.2" font-weight="bold" text-anchor="end" fill="#000" font-family='"Liberation Sans", sans-serif' >PAA alone</text>
<text x="1002.3" y="776.3" font-size="15.2" font-weight="bold" text-anchor="end" fill="#000" font-family='"Liberation Sans", sans-serif' >Co-MnO<tspan font-size="70%" dy="4">2</tspan><tspan dy="-4">+PAA+CH</tspan><tspan font-size="70%" dy="4">3</tspan><tspan dy="-4">OH</tspan></text>
<rect x="638.6" y="497.1" width="370.8" height="290.7" fill="none" stroke="#000" stroke-width="3.4" />
<line x1="638.7" y1="787.8" x2="638.7" y2="792.8" stroke="#000" stroke-width="2.4" />
<text x="638.7" y="810.4" font-size="15" font-weight="bold" text-anchor="middle" fill="#000" font-family='"Liberation Sans", sans-serif' >3480</text>
<line x1="673.65" y1="787.8" x2="673.65" y2="790.8" stroke="#000" stroke-width="2.0" />
<line x1="708.6" y1="787.8" x2="708.6" y2="792.8" stroke="#000" stroke-width="2.4" />
<text x="708.6" y="810.4" font-size="15" font-weight="bold" text-anchor="middle" fill="#000" font-family='"Liberation Sans", sans-serif' >3490</text>
<line x1="743.55" y1="787.8" x2="743.55" y2="790.8" stroke="#000" stroke-width="2.0" />
<line x1="778.5" y1="787.8" x2="778.5" y2="792.8" stroke="#000" stroke-width="2.4" />
<text x="778.5" y="810.4" font-size="15" font-weight="bold" text-anchor="middle" fill="#000" font-family='"Liberation Sans", sans-serif' >3500</text>
<line x1="813.45" y1="787.8" x2="813.45" y2="790.8" stroke="#000" stroke-width="2.0" />
<line x1="848.4" y1="787.8" x2="848.4" y2="792.8" stroke="#000" stroke-width="2.4" />
<text x="848.4" y="810.4" font-size="15" font-weight="bold" text-anchor="middle" fill="#000" font-family='"Liberation Sans", sans-serif' >3510</text>
<line x1="883.35" y1="787.8" x2="883.35" y2="790.8" stroke="#000" stroke-width="2.0" />
<line x1="918.3" y1="787.8" x2="918.3" y2="792.8" stroke="#000" stroke-width="2.4" />
<text x="918.3" y="810.4" font-size="15" font-weight="bold" text-anchor="middle" fill="#000" font-family='"Liberation Sans", sans-serif' >3520</text>
<line x1="953.25" y1="787.8" x2="953.25" y2="790.8" stroke="#000" stroke-width="2.0" />
<line x1="988.2" y1="787.8" x2="988.2" y2="792.8" stroke="#000" stroke-width="2.4" />
<text x="988.2" y="810.4" font-size="15" font-weight="bold" text-anchor="middle" fill="#000" font-family='"Liberation Sans", sans-serif' >3530</text>
<clipPath id="clipe"><rect x="600" y="820" width="400" height="29.5"/></clipPath>
<text x="815.7" y="850" font-size="20.5" font-weight="bold" text-anchor="middle" fill="#000" font-family='"Liberation Sans", sans-serif' clip-path="url(#clipe)">Magnetic field (G)</text>
<text x="0" y="0" font-size="25" font-weight="bold" text-anchor="middle" fill="#000" font-family='"Liberation Sans", sans-serif' transform="translate(625.5,641) rotate(-90)">Intensity (a.u.)</text>
<text x="1102" y="514.8" font-size="52" font-weight="bold" text-anchor="start" fill="#000" font-family='"Liberation Sans", sans-serif' >f</text>
<rect x="1263.7" y="529.46" width="67.8" height="266.44" fill="url(#gf1)" stroke="#000" stroke-width="3.0" />
<rect x="1436.4" y="605.79" width="68.8" height="190.11" fill="url(#gf2)" stroke="#000" stroke-width="3.0" />
<text transform="translate(1299.2,521.8) scale(1,1.05)" font-size="14" font-weight="bold" text-anchor="middle" fill="#111" font-family='"Liberation Sans", sans-serif' >3.63E-11</text>
<text transform="translate(1475.2,600) scale(1,1.05)" font-size="14" font-weight="bold" text-anchor="middle" fill="#111" font-family='"Liberation Sans", sans-serif' >2.59E-13</text>
<rect x="1211" y="502.2" width="346.6" height="293.7" fill="none" stroke="#000" stroke-width="5" />
<line x1="1206" y1="795.9" x2="1211" y2="795.9" stroke="#000" stroke-width="4" />
<text x="1201.5" y="800.9" font-size="14" font-weight="normal" text-anchor="end" fill="#333" font-family='"Liberation Sans", sans-serif' >0</text>
<line x1="1206" y1="722.5" x2="1211" y2="722.5" stroke="#000" stroke-width="4" />
<text x="1201.5" y="727.5" font-size="14" font-weight="normal" text-anchor="end" fill="#333" font-family='"Liberation Sans", sans-serif' >1</text>
<line x1="1206" y1="649.1" x2="1211" y2="649.1" stroke="#000" stroke-width="4" />
<text x="1201.5" y="654.1" font-size="14" font-weight="normal" text-anchor="end" fill="#333" font-family='"Liberation Sans", sans-serif' >2</text>
<line x1="1206" y1="575.7" x2="1211" y2="575.7" stroke="#000" stroke-width="4" />
<text x="1201.5" y="580.7" font-size="14" font-weight="normal" text-anchor="end" fill="#333" font-family='"Liberation Sans", sans-serif' >3</text>
<line x1="1206" y1="502.3" x2="1211" y2="502.3" stroke="#000" stroke-width="4" />
<text x="1201.5" y="507.3" font-size="14" font-weight="normal" text-anchor="end" fill="#333" font-family='"Liberation Sans", sans-serif' >4</text>
<line x1="1297.3" y1="795.9" x2="1297.3" y2="800.4" stroke="#000" stroke-width="4" />
<line x1="1470.7" y1="795.9" x2="1470.7" y2="800.4" stroke="#000" stroke-width="4" />
<text x="1297.5" y="818.5" font-size="15" font-weight="normal" text-anchor="middle" fill="#222" font-family='"Liberation Sans", sans-serif' ><tspan font-size="65%" dy="-5">1</tspan><tspan dy="5">O</tspan><tspan font-size="65%" dy="4">2</tspan></text>
<text x="1473.3" y="817.6" font-size="15" font-weight="normal" text-anchor="middle" fill="#222" font-family='"Liberation Sans", sans-serif' >·OH</text>
<text x="0" y="0" font-size="19.4" font-weight="normal" text-anchor="middle" fill="#222" font-family='"Liberation Sans", sans-serif' transform="translate(1187.8,649) rotate(-90)">Steady-state concentration</text></svg>
<div class="cl" style="top:882.18px"><b>Fig. 4.</b>&nbsp; (a) Removal of SMZ in the presence of different quenchers. (b) Removal and <i>k</i><span class="sb">obs</span> of SMZ removal in Co-MnO<span class="sb">2</span>/PAA system with different concentrations of</div>
<div class="cl" style="top:911.28px">quenchers. (c) Decline of PMSO and production of PMSO<span class="sb">2</span> in different reaction systems. (d) TEMP-trapping EPR signals in different reaction systems. (e) DMPO-</div>
<div class="cl" style="top:940.28px">trapping EPR signals in different reaction systems. (f) Steady-state concentrations of <span class="sp">1</span>O<span class="sb">2</span> and <span class="sp">&#8226;</span>OH in the Co-MnO<span class="sb">2</span> system. Concentrations of quenchers (for a and</div>
<div class="cl" style="top:969.38px">c): [NaSCN]<span class="sb">0</span> = [<i>p</i>-BQ]<span class="sb">0</span> = 1 mM, [2,4-HD]<span class="sb">0</span> = 2 mM, [MeOH]<span class="sb">0</span> = [TBA]<span class="sb">0</span> = 100 mM, [DMSO]<span class="sb">0</span> = [FFA]<span class="sb">0</span> = [HIS]<span class="sb">0</span> = [NaN<span class="sb">3</span>]<span class="sb">0</span> = 10 mM. Reaction conditions: [SMZ]</div>
<div class="cl last" style="top:997.88px">= 10 μM, [PAA]<span class="sb">0</span> = 100 μM, [catalyst]<span class="sb">0</span> = 0.1 g/L, pH<span class="sb">0</span> = 6.83, and <i>T</i> = 25 °C.</div>

</body></html>
